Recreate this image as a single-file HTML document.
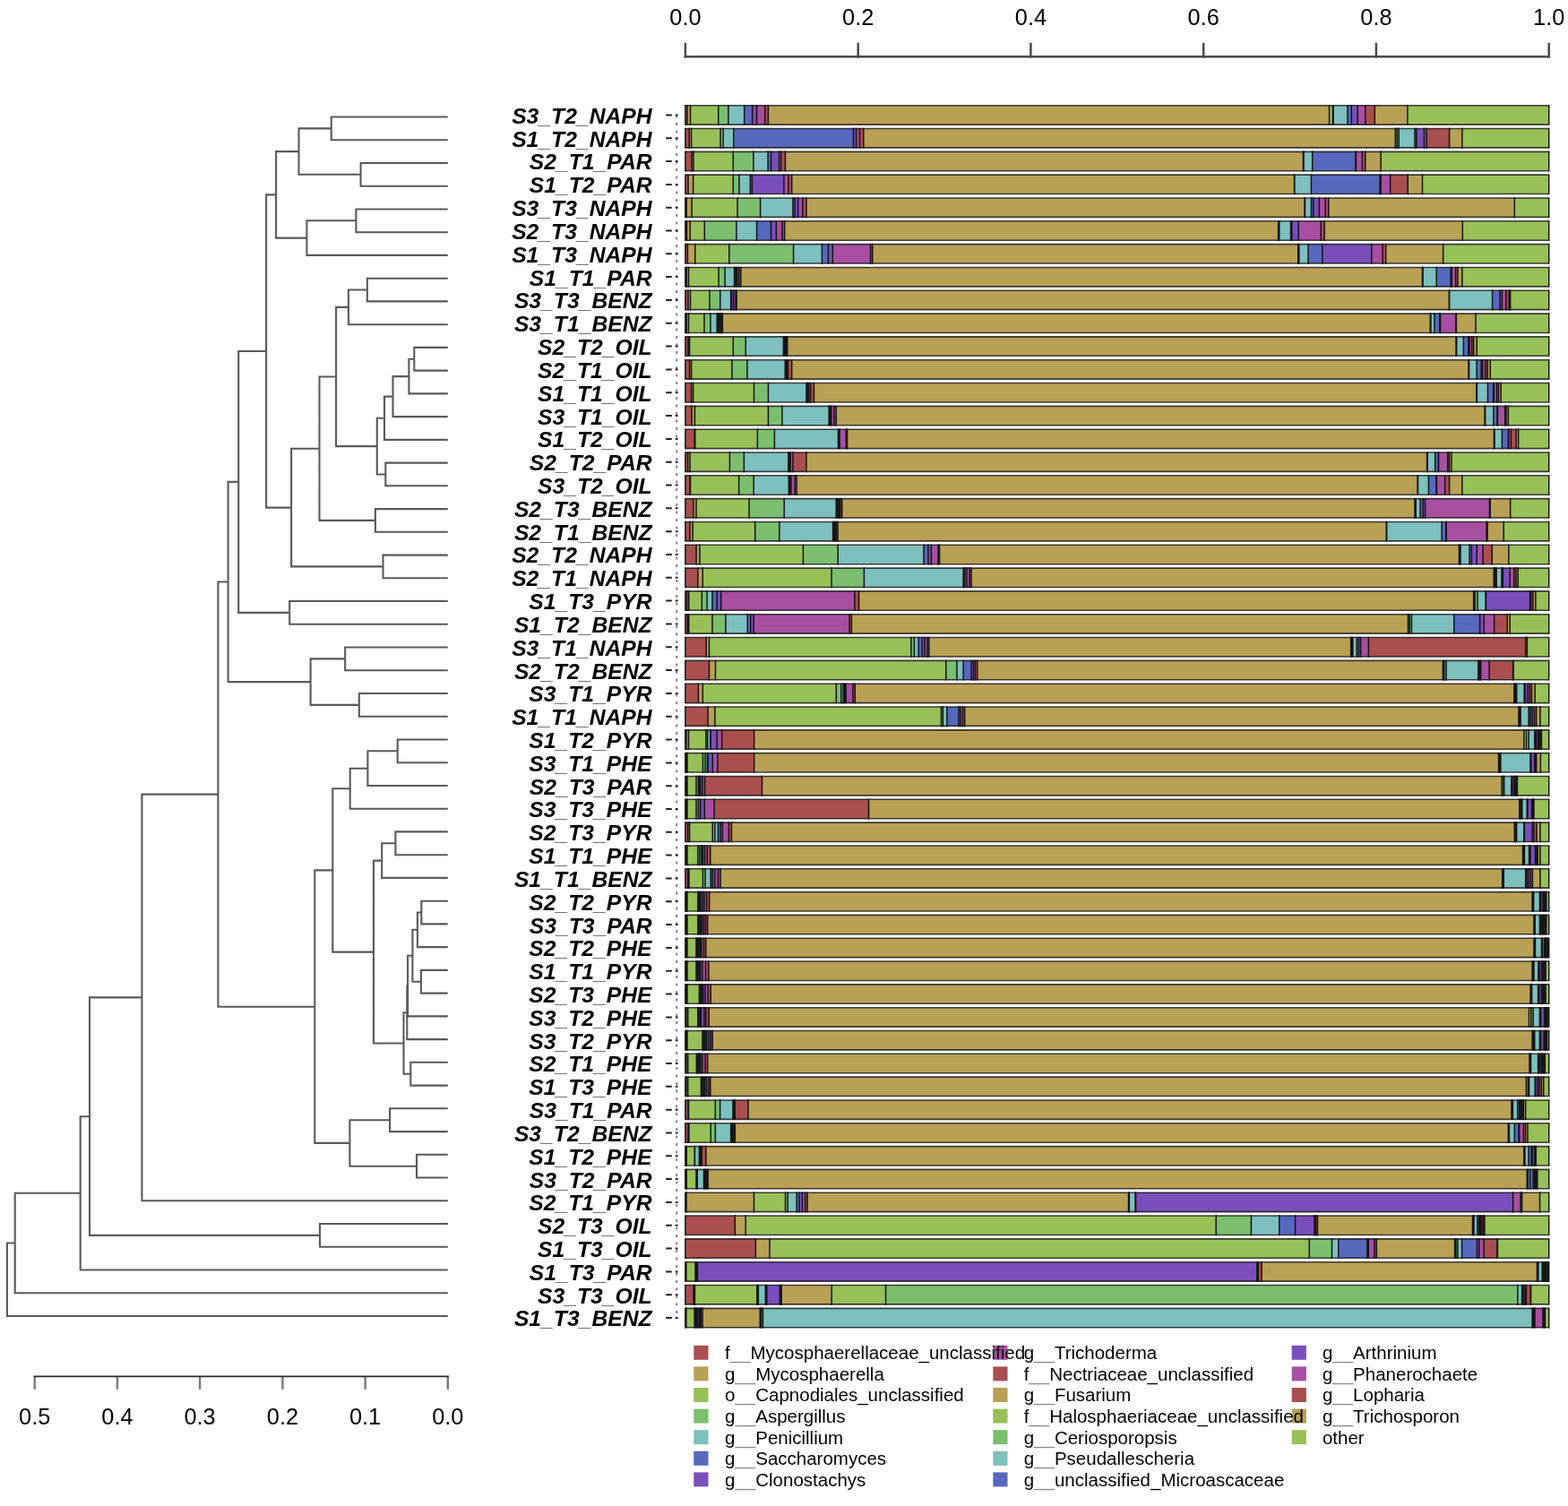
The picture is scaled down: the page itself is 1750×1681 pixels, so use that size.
<!DOCTYPE html><html><head><meta charset="utf-8"><title>Stacked bar chart with dendrogram</title>
<style>html,body{margin:0;padding:0;background:#fff;}svg{display:block;filter:blur(0.45px);}text{font-family:"Liberation Sans",Arial,sans-serif;}</style></head><body>
<svg width="1750" height="1681" viewBox="0 0 1750 1681">
<rect width="1750" height="1681" fill="#fff"/>
<g stroke="#4a4a4a" stroke-width="2.5" fill="none" stroke-linecap="square">
<path d="M764.9 63.3H1728.7"/>
<path d="M764.9 49V63.3"/>
<path d="M957.7 49V63.3"/>
<path d="M1150.4 49V63.3"/>
<path d="M1343.2 49V63.3"/>
<path d="M1535.9 49V63.3"/>
<path d="M1728.7 49V63.3"/>
</g>
<g font-size="25.3" text-anchor="middle" fill="#000">
<text x="764.9" y="28.4">0.0</text>
<text x="957.7" y="28.4">0.2</text>
<text x="1150.4" y="28.4">0.4</text>
<text x="1343.2" y="28.4">0.6</text>
<text x="1535.9" y="28.4">0.8</text>
<text x="1728.7" y="28.4">1.0</text>
</g>
<g><rect x="764.90" y="117.70" width="2.06" height="21.4" fill="#AA4F4F"/><rect x="766.96" y="117.70" width="3.56" height="21.4" fill="#B8A055"/><rect x="770.51" y="117.70" width="31.24" height="21.4" fill="#98C058"/><rect x="801.75" y="117.70" width="11.13" height="21.4" fill="#7BBF6E"/><rect x="812.88" y="117.70" width="17.78" height="21.4" fill="#7DC0BE"/><rect x="830.67" y="117.70" width="8.97" height="21.4" fill="#5769BD"/><rect x="839.64" y="117.70" width="4.95" height="21.4" fill="#7A4FBC"/><rect x="844.58" y="117.70" width="9.12" height="21.4" fill="#A84FA2"/><rect x="853.71" y="117.70" width="3.71" height="21.4" fill="#AA4F4F"/><rect x="857.42" y="117.70" width="626.14" height="21.4" fill="#B8A055"/><rect x="1483.56" y="117.70" width="3.87" height="21.4" fill="#98C058"/><rect x="1487.43" y="117.70" width="0.77" height="21.4" fill="#7BBF6E"/><rect x="1488.20" y="117.70" width="15.78" height="21.4" fill="#7DC0BE"/><rect x="1503.98" y="117.70" width="4.33" height="21.4" fill="#5769BD"/><rect x="1508.32" y="117.70" width="6.96" height="21.4" fill="#7A4FBC"/><rect x="1515.28" y="117.70" width="8.51" height="21.4" fill="#A84FA2"/><rect x="1523.79" y="117.70" width="10.52" height="21.4" fill="#AA4F4F"/><rect x="1534.31" y="117.70" width="36.61" height="21.4" fill="#B8A055"/><rect x="1570.92" y="117.70" width="157.78" height="21.4" fill="#98C058"/><rect x="764.90" y="143.52" width="4.38" height="21.4" fill="#AA4F4F"/><rect x="769.28" y="143.52" width="2.32" height="21.4" fill="#B8A055"/><rect x="771.60" y="143.52" width="32.47" height="21.4" fill="#98C058"/><rect x="804.07" y="143.52" width="3.09" height="21.4" fill="#7BBF6E"/><rect x="807.16" y="143.52" width="11.60" height="21.4" fill="#7DC0BE"/><rect x="818.76" y="143.52" width="133.76" height="21.4" fill="#5769BD"/><rect x="952.52" y="143.52" width="3.09" height="21.4" fill="#7A4FBC"/><rect x="955.61" y="143.52" width="3.87" height="21.4" fill="#A84FA2"/><rect x="959.47" y="143.52" width="4.33" height="21.4" fill="#AA4F4F"/><rect x="963.80" y="143.52" width="593.51" height="21.4" fill="#B8A055"/><rect x="1557.32" y="143.52" width="1.86" height="21.4" fill="#98C058"/><rect x="1559.17" y="143.52" width="2.01" height="21.4" fill="#7BBF6E"/><rect x="1561.18" y="143.52" width="17.78" height="21.4" fill="#7DC0BE"/><rect x="1578.96" y="143.52" width="1.86" height="21.4" fill="#5769BD"/><rect x="1580.82" y="143.52" width="8.66" height="21.4" fill="#7A4FBC"/><rect x="1589.48" y="143.52" width="2.63" height="21.4" fill="#A84FA2"/><rect x="1592.11" y="143.52" width="25.51" height="21.4" fill="#AA4F4F"/><rect x="1617.62" y="143.52" width="14.23" height="21.4" fill="#B8A055"/><rect x="1631.85" y="143.52" width="96.85" height="21.4" fill="#98C058"/><rect x="764.90" y="169.34" width="7.16" height="21.4" fill="#AA4F4F"/><rect x="772.06" y="169.34" width="1.86" height="21.4" fill="#B8A055"/><rect x="773.92" y="169.34" width="44.38" height="21.4" fill="#98C058"/><rect x="818.30" y="169.34" width="22.58" height="21.4" fill="#7BBF6E"/><rect x="840.87" y="169.34" width="16.24" height="21.4" fill="#7DC0BE"/><rect x="857.11" y="169.34" width="3.40" height="21.4" fill="#5769BD"/><rect x="860.51" y="169.34" width="8.97" height="21.4" fill="#7A4FBC"/><rect x="869.48" y="169.34" width="2.16" height="21.4" fill="#A84FA2"/><rect x="871.64" y="169.34" width="4.79" height="21.4" fill="#AA4F4F"/><rect x="876.44" y="169.34" width="578.03" height="21.4" fill="#B8A055"/><rect x="1454.47" y="169.34" width="0.46" height="21.4" fill="#98C058"/><rect x="1454.93" y="169.34" width="0.15" height="21.4" fill="#7BBF6E"/><rect x="1455.09" y="169.34" width="9.59" height="21.4" fill="#7DC0BE"/><rect x="1464.68" y="169.34" width="48.28" height="21.4" fill="#5769BD"/><rect x="1512.96" y="169.34" width="0.46" height="21.4" fill="#7A4FBC"/><rect x="1513.42" y="169.34" width="6.96" height="21.4" fill="#A84FA2"/><rect x="1520.39" y="169.34" width="3.40" height="21.4" fill="#AA4F4F"/><rect x="1523.79" y="169.34" width="17.33" height="21.4" fill="#B8A055"/><rect x="1541.12" y="169.34" width="187.58" height="21.4" fill="#98C058"/><rect x="764.90" y="195.16" width="3.14" height="21.4" fill="#AA4F4F"/><rect x="768.04" y="195.16" width="5.57" height="21.4" fill="#B8A055"/><rect x="773.61" y="195.16" width="44.69" height="21.4" fill="#98C058"/><rect x="818.30" y="195.16" width="6.65" height="21.4" fill="#7BBF6E"/><rect x="824.95" y="195.16" width="12.37" height="21.4" fill="#7DC0BE"/><rect x="837.32" y="195.16" width="2.01" height="21.4" fill="#5769BD"/><rect x="839.33" y="195.16" width="35.57" height="21.4" fill="#7A4FBC"/><rect x="874.89" y="195.16" width="4.95" height="21.4" fill="#A84FA2"/><rect x="879.84" y="195.16" width="3.87" height="21.4" fill="#AA4F4F"/><rect x="883.70" y="195.16" width="560.86" height="21.4" fill="#B8A055"/><rect x="1444.56" y="195.16" width="0.15" height="21.4" fill="#98C058"/><rect x="1444.72" y="195.16" width="0.15" height="21.4" fill="#7BBF6E"/><rect x="1444.87" y="195.16" width="18.57" height="21.4" fill="#7DC0BE"/><rect x="1463.44" y="195.16" width="76.60" height="21.4" fill="#5769BD"/><rect x="1540.04" y="195.16" width="1.08" height="21.4" fill="#7A4FBC"/><rect x="1541.12" y="195.16" width="10.52" height="21.4" fill="#A84FA2"/><rect x="1551.64" y="195.16" width="19.59" height="21.4" fill="#AA4F4F"/><rect x="1571.23" y="195.16" width="16.24" height="21.4" fill="#B8A055"/><rect x="1587.47" y="195.16" width="141.23" height="21.4" fill="#98C058"/><rect x="764.90" y="220.98" width="1.29" height="21.4" fill="#AA4F4F"/><rect x="766.19" y="220.98" width="5.88" height="21.4" fill="#B8A055"/><rect x="772.06" y="220.98" width="51.03" height="21.4" fill="#98C058"/><rect x="823.09" y="220.98" width="25.51" height="21.4" fill="#7BBF6E"/><rect x="848.60" y="220.98" width="36.34" height="21.4" fill="#7DC0BE"/><rect x="884.94" y="220.98" width="2.16" height="21.4" fill="#5769BD"/><rect x="887.11" y="220.98" width="3.56" height="21.4" fill="#7A4FBC"/><rect x="890.66" y="220.98" width="5.10" height="21.4" fill="#A84FA2"/><rect x="895.77" y="220.98" width="4.18" height="21.4" fill="#AA4F4F"/><rect x="899.94" y="220.98" width="556.07" height="21.4" fill="#B8A055"/><rect x="1456.02" y="220.98" width="0.31" height="21.4" fill="#98C058"/><rect x="1456.32" y="220.98" width="0.15" height="21.4" fill="#7BBF6E"/><rect x="1456.48" y="220.98" width="6.96" height="21.4" fill="#7DC0BE"/><rect x="1463.44" y="220.98" width="2.32" height="21.4" fill="#5769BD"/><rect x="1465.76" y="220.98" width="6.65" height="21.4" fill="#7A4FBC"/><rect x="1472.42" y="220.98" width="6.81" height="21.4" fill="#A84FA2"/><rect x="1479.23" y="220.98" width="3.56" height="21.4" fill="#AA4F4F"/><rect x="1482.79" y="220.98" width="207.51" height="21.4" fill="#B8A055"/><rect x="1690.30" y="220.98" width="38.40" height="21.4" fill="#98C058"/><rect x="764.90" y="246.80" width="1.59" height="21.4" fill="#AA4F4F"/><rect x="766.49" y="246.80" width="3.71" height="21.4" fill="#B8A055"/><rect x="770.21" y="246.80" width="16.08" height="21.4" fill="#98C058"/><rect x="786.29" y="246.80" width="35.57" height="21.4" fill="#7BBF6E"/><rect x="821.85" y="246.80" width="22.73" height="21.4" fill="#7DC0BE"/><rect x="844.58" y="246.80" width="15.93" height="21.4" fill="#5769BD"/><rect x="860.51" y="246.80" width="5.88" height="21.4" fill="#7A4FBC"/><rect x="866.39" y="246.80" width="6.49" height="21.4" fill="#A84FA2"/><rect x="872.88" y="246.80" width="2.78" height="21.4" fill="#AA4F4F"/><rect x="875.66" y="246.80" width="550.95" height="21.4" fill="#B8A055"/><rect x="1426.62" y="246.80" width="0.62" height="21.4" fill="#98C058"/><rect x="1427.23" y="246.80" width="0.62" height="21.4" fill="#7BBF6E"/><rect x="1427.85" y="246.80" width="12.69" height="21.4" fill="#7DC0BE"/><rect x="1440.54" y="246.80" width="1.24" height="21.4" fill="#5769BD"/><rect x="1441.78" y="246.80" width="7.43" height="21.4" fill="#7A4FBC"/><rect x="1449.21" y="246.80" width="25.07" height="21.4" fill="#A84FA2"/><rect x="1474.27" y="246.80" width="3.87" height="21.4" fill="#AA4F4F"/><rect x="1478.14" y="246.80" width="154.17" height="21.4" fill="#B8A055"/><rect x="1632.31" y="246.80" width="96.39" height="21.4" fill="#98C058"/><rect x="764.90" y="272.62" width="2.52" height="21.4" fill="#AA4F4F"/><rect x="767.42" y="272.62" width="8.35" height="21.4" fill="#B8A055"/><rect x="775.77" y="272.62" width="38.04" height="21.4" fill="#98C058"/><rect x="813.81" y="272.62" width="71.75" height="21.4" fill="#7BBF6E"/><rect x="885.56" y="272.62" width="31.85" height="21.4" fill="#7DC0BE"/><rect x="917.41" y="272.62" width="6.96" height="21.4" fill="#5769BD"/><rect x="924.37" y="272.62" width="4.95" height="21.4" fill="#7A4FBC"/><rect x="929.32" y="272.62" width="42.21" height="21.4" fill="#A84FA2"/><rect x="971.54" y="272.62" width="2.16" height="21.4" fill="#AA4F4F"/><rect x="973.70" y="272.62" width="475.04" height="21.4" fill="#B8A055"/><rect x="1448.74" y="272.62" width="0.46" height="21.4" fill="#98C058"/><rect x="1449.21" y="272.62" width="0.62" height="21.4" fill="#7BBF6E"/><rect x="1449.83" y="272.62" width="10.21" height="21.4" fill="#7DC0BE"/><rect x="1460.04" y="272.62" width="15.78" height="21.4" fill="#5769BD"/><rect x="1475.82" y="272.62" width="54.93" height="21.4" fill="#7A4FBC"/><rect x="1530.75" y="272.62" width="12.38" height="21.4" fill="#A84FA2"/><rect x="1543.13" y="272.62" width="3.56" height="21.4" fill="#AA4F4F"/><rect x="1546.69" y="272.62" width="63.97" height="21.4" fill="#B8A055"/><rect x="1610.66" y="272.62" width="118.04" height="21.4" fill="#98C058"/><rect x="764.90" y="298.44" width="1.29" height="21.4" fill="#AA4F4F"/><rect x="766.19" y="298.44" width="2.32" height="21.4" fill="#B8A055"/><rect x="768.50" y="298.44" width="33.55" height="21.4" fill="#98C058"/><rect x="802.06" y="298.44" width="7.11" height="21.4" fill="#7BBF6E"/><rect x="809.17" y="298.44" width="10.36" height="21.4" fill="#7DC0BE"/><rect x="819.53" y="298.44" width="1.55" height="21.4" fill="#5769BD"/><rect x="821.08" y="298.44" width="1.55" height="21.4" fill="#7A4FBC"/><rect x="822.63" y="298.44" width="2.01" height="21.4" fill="#A84FA2"/><rect x="824.64" y="298.44" width="2.16" height="21.4" fill="#AA4F4F"/><rect x="826.80" y="298.44" width="760.67" height="21.4" fill="#B8A055"/><rect x="1587.47" y="298.44" width="0.31" height="21.4" fill="#98C058"/><rect x="1587.78" y="298.44" width="0.31" height="21.4" fill="#7BBF6E"/><rect x="1588.09" y="298.44" width="15.15" height="21.4" fill="#7DC0BE"/><rect x="1603.24" y="298.44" width="15.93" height="21.4" fill="#5769BD"/><rect x="1619.17" y="298.44" width="1.08" height="21.4" fill="#7A4FBC"/><rect x="1620.25" y="298.44" width="4.33" height="21.4" fill="#A84FA2"/><rect x="1624.58" y="298.44" width="2.32" height="21.4" fill="#AA4F4F"/><rect x="1626.90" y="298.44" width="4.95" height="21.4" fill="#B8A055"/><rect x="1631.85" y="298.44" width="96.85" height="21.4" fill="#98C058"/><rect x="764.90" y="324.26" width="3.14" height="21.4" fill="#AA4F4F"/><rect x="768.04" y="324.26" width="2.47" height="21.4" fill="#B8A055"/><rect x="770.51" y="324.26" width="21.49" height="21.4" fill="#98C058"/><rect x="792.01" y="324.26" width="11.75" height="21.4" fill="#7BBF6E"/><rect x="803.76" y="324.26" width="11.91" height="21.4" fill="#7DC0BE"/><rect x="815.67" y="324.26" width="0.77" height="21.4" fill="#5769BD"/><rect x="816.44" y="324.26" width="2.32" height="21.4" fill="#7A4FBC"/><rect x="818.76" y="324.26" width="2.32" height="21.4" fill="#A84FA2"/><rect x="821.08" y="324.26" width="1.08" height="21.4" fill="#AA4F4F"/><rect x="822.16" y="324.26" width="795.15" height="21.4" fill="#B8A055"/><rect x="1617.31" y="324.26" width="0.15" height="21.4" fill="#98C058"/><rect x="1617.47" y="324.26" width="0.15" height="21.4" fill="#7BBF6E"/><rect x="1617.62" y="324.26" width="47.94" height="21.4" fill="#7DC0BE"/><rect x="1665.56" y="324.26" width="8.50" height="21.4" fill="#5769BD"/><rect x="1674.06" y="324.26" width="2.32" height="21.4" fill="#7A4FBC"/><rect x="1676.38" y="324.26" width="4.33" height="21.4" fill="#A84FA2"/><rect x="1680.71" y="324.26" width="3.40" height="21.4" fill="#AA4F4F"/><rect x="1684.11" y="324.26" width="1.55" height="21.4" fill="#B8A055"/><rect x="1685.66" y="324.26" width="43.04" height="21.4" fill="#98C058"/><rect x="764.90" y="350.08" width="1.29" height="21.4" fill="#AA4F4F"/><rect x="766.19" y="350.08" width="2.32" height="21.4" fill="#B8A055"/><rect x="768.50" y="350.08" width="17.47" height="21.4" fill="#98C058"/><rect x="785.98" y="350.08" width="6.96" height="21.4" fill="#7BBF6E"/><rect x="792.94" y="350.08" width="7.27" height="21.4" fill="#7DC0BE"/><rect x="800.20" y="350.08" width="1.55" height="21.4" fill="#5769BD"/><rect x="801.75" y="350.08" width="1.55" height="21.4" fill="#7A4FBC"/><rect x="803.30" y="350.08" width="1.55" height="21.4" fill="#A84FA2"/><rect x="804.84" y="350.08" width="1.55" height="21.4" fill="#AA4F4F"/><rect x="806.39" y="350.08" width="789.89" height="21.4" fill="#B8A055"/><rect x="1596.28" y="350.08" width="0.31" height="21.4" fill="#98C058"/><rect x="1596.59" y="350.08" width="0.31" height="21.4" fill="#7BBF6E"/><rect x="1596.90" y="350.08" width="4.02" height="21.4" fill="#7DC0BE"/><rect x="1600.92" y="350.08" width="5.88" height="21.4" fill="#5769BD"/><rect x="1606.80" y="350.08" width="0.77" height="21.4" fill="#7A4FBC"/><rect x="1607.57" y="350.08" width="17.32" height="21.4" fill="#A84FA2"/><rect x="1624.89" y="350.08" width="0.46" height="21.4" fill="#AA4F4F"/><rect x="1625.35" y="350.08" width="21.65" height="21.4" fill="#B8A055"/><rect x="1647.00" y="350.08" width="81.70" height="21.4" fill="#98C058"/><rect x="764.90" y="375.90" width="3.14" height="21.4" fill="#AA4F4F"/><rect x="768.04" y="375.90" width="1.55" height="21.4" fill="#B8A055"/><rect x="769.59" y="375.90" width="48.71" height="21.4" fill="#98C058"/><rect x="818.30" y="375.90" width="13.92" height="21.4" fill="#7BBF6E"/><rect x="832.21" y="375.90" width="42.21" height="21.4" fill="#7DC0BE"/><rect x="874.43" y="375.90" width="0.77" height="21.4" fill="#5769BD"/><rect x="875.20" y="375.90" width="1.08" height="21.4" fill="#7A4FBC"/><rect x="876.28" y="375.90" width="1.24" height="21.4" fill="#A84FA2"/><rect x="877.52" y="375.90" width="1.24" height="21.4" fill="#AA4F4F"/><rect x="878.76" y="375.90" width="746.29" height="21.4" fill="#B8A055"/><rect x="1625.04" y="375.90" width="0.31" height="21.4" fill="#98C058"/><rect x="1625.35" y="375.90" width="0.31" height="21.4" fill="#7BBF6E"/><rect x="1625.66" y="375.90" width="7.73" height="21.4" fill="#7DC0BE"/><rect x="1633.39" y="375.90" width="5.41" height="21.4" fill="#5769BD"/><rect x="1638.81" y="375.90" width="1.24" height="21.4" fill="#7A4FBC"/><rect x="1640.04" y="375.90" width="2.63" height="21.4" fill="#A84FA2"/><rect x="1642.67" y="375.90" width="2.01" height="21.4" fill="#AA4F4F"/><rect x="1644.68" y="375.90" width="3.56" height="21.4" fill="#B8A055"/><rect x="1648.24" y="375.90" width="80.46" height="21.4" fill="#98C058"/><rect x="764.90" y="401.72" width="4.69" height="21.4" fill="#AA4F4F"/><rect x="769.59" y="401.72" width="2.01" height="21.4" fill="#B8A055"/><rect x="771.60" y="401.72" width="45.31" height="21.4" fill="#98C058"/><rect x="816.90" y="401.72" width="17.01" height="21.4" fill="#7BBF6E"/><rect x="833.91" y="401.72" width="42.37" height="21.4" fill="#7DC0BE"/><rect x="876.28" y="401.72" width="0.93" height="21.4" fill="#5769BD"/><rect x="877.21" y="401.72" width="1.08" height="21.4" fill="#7A4FBC"/><rect x="878.29" y="401.72" width="1.08" height="21.4" fill="#A84FA2"/><rect x="879.38" y="401.72" width="4.33" height="21.4" fill="#AA4F4F"/><rect x="883.70" y="401.72" width="755.26" height="21.4" fill="#B8A055"/><rect x="1638.96" y="401.72" width="0.31" height="21.4" fill="#98C058"/><rect x="1639.27" y="401.72" width="0.31" height="21.4" fill="#7BBF6E"/><rect x="1639.58" y="401.72" width="8.50" height="21.4" fill="#7DC0BE"/><rect x="1648.08" y="401.72" width="5.10" height="21.4" fill="#5769BD"/><rect x="1653.19" y="401.72" width="1.55" height="21.4" fill="#7A4FBC"/><rect x="1654.73" y="401.72" width="3.09" height="21.4" fill="#A84FA2"/><rect x="1657.83" y="401.72" width="2.32" height="21.4" fill="#AA4F4F"/><rect x="1660.15" y="401.72" width="3.09" height="21.4" fill="#B8A055"/><rect x="1663.24" y="401.72" width="65.46" height="21.4" fill="#98C058"/><rect x="764.90" y="427.54" width="6.70" height="21.4" fill="#AA4F4F"/><rect x="771.60" y="427.54" width="2.01" height="21.4" fill="#B8A055"/><rect x="773.61" y="427.54" width="67.88" height="21.4" fill="#98C058"/><rect x="841.49" y="427.54" width="15.93" height="21.4" fill="#7BBF6E"/><rect x="857.42" y="427.54" width="42.52" height="21.4" fill="#7DC0BE"/><rect x="899.94" y="427.54" width="1.08" height="21.4" fill="#5769BD"/><rect x="901.02" y="427.54" width="1.55" height="21.4" fill="#7A4FBC"/><rect x="902.57" y="427.54" width="2.01" height="21.4" fill="#A84FA2"/><rect x="904.58" y="427.54" width="3.87" height="21.4" fill="#AA4F4F"/><rect x="908.45" y="427.54" width="739.33" height="21.4" fill="#B8A055"/><rect x="1647.77" y="427.54" width="0.31" height="21.4" fill="#98C058"/><rect x="1648.08" y="427.54" width="0.31" height="21.4" fill="#7BBF6E"/><rect x="1648.39" y="427.54" width="12.06" height="21.4" fill="#7DC0BE"/><rect x="1660.45" y="427.54" width="6.19" height="21.4" fill="#5769BD"/><rect x="1666.64" y="427.54" width="0.77" height="21.4" fill="#7A4FBC"/><rect x="1667.41" y="427.54" width="3.09" height="21.4" fill="#A84FA2"/><rect x="1670.51" y="427.54" width="2.01" height="21.4" fill="#AA4F4F"/><rect x="1672.52" y="427.54" width="2.63" height="21.4" fill="#B8A055"/><rect x="1675.14" y="427.54" width="53.56" height="21.4" fill="#98C058"/><rect x="764.90" y="453.36" width="7.16" height="21.4" fill="#AA4F4F"/><rect x="772.06" y="453.36" width="3.40" height="21.4" fill="#B8A055"/><rect x="775.46" y="453.36" width="81.95" height="21.4" fill="#98C058"/><rect x="857.42" y="453.36" width="15.46" height="21.4" fill="#7BBF6E"/><rect x="872.88" y="453.36" width="52.27" height="21.4" fill="#7DC0BE"/><rect x="925.15" y="453.36" width="1.55" height="21.4" fill="#5769BD"/><rect x="926.69" y="453.36" width="1.08" height="21.4" fill="#7A4FBC"/><rect x="927.77" y="453.36" width="3.09" height="21.4" fill="#A84FA2"/><rect x="930.87" y="453.36" width="2.32" height="21.4" fill="#AA4F4F"/><rect x="933.19" y="453.36" width="723.87" height="21.4" fill="#B8A055"/><rect x="1657.05" y="453.36" width="0.31" height="21.4" fill="#98C058"/><rect x="1657.36" y="453.36" width="0.31" height="21.4" fill="#7BBF6E"/><rect x="1657.67" y="453.36" width="9.12" height="21.4" fill="#7DC0BE"/><rect x="1666.79" y="453.36" width="4.18" height="21.4" fill="#5769BD"/><rect x="1670.97" y="453.36" width="0.46" height="21.4" fill="#7A4FBC"/><rect x="1671.43" y="453.36" width="8.35" height="21.4" fill="#A84FA2"/><rect x="1679.78" y="453.36" width="1.24" height="21.4" fill="#AA4F4F"/><rect x="1681.02" y="453.36" width="2.32" height="21.4" fill="#B8A055"/><rect x="1683.34" y="453.36" width="45.36" height="21.4" fill="#98C058"/><rect x="764.90" y="479.18" width="10.25" height="21.4" fill="#AA4F4F"/><rect x="775.15" y="479.18" width="0.62" height="21.4" fill="#B8A055"/><rect x="775.77" y="479.18" width="69.58" height="21.4" fill="#98C058"/><rect x="845.36" y="479.18" width="19.02" height="21.4" fill="#7BBF6E"/><rect x="864.38" y="479.18" width="71.13" height="21.4" fill="#7DC0BE"/><rect x="935.51" y="479.18" width="0.77" height="21.4" fill="#5769BD"/><rect x="936.28" y="479.18" width="0.77" height="21.4" fill="#7A4FBC"/><rect x="937.05" y="479.18" width="7.27" height="21.4" fill="#A84FA2"/><rect x="944.32" y="479.18" width="1.24" height="21.4" fill="#AA4F4F"/><rect x="945.56" y="479.18" width="721.86" height="21.4" fill="#B8A055"/><rect x="1667.41" y="479.18" width="0.31" height="21.4" fill="#98C058"/><rect x="1667.72" y="479.18" width="0.31" height="21.4" fill="#7BBF6E"/><rect x="1668.03" y="479.18" width="8.35" height="21.4" fill="#7DC0BE"/><rect x="1676.38" y="479.18" width="6.96" height="21.4" fill="#5769BD"/><rect x="1683.34" y="479.18" width="0.46" height="21.4" fill="#7A4FBC"/><rect x="1683.80" y="479.18" width="2.63" height="21.4" fill="#A84FA2"/><rect x="1686.43" y="479.18" width="5.72" height="21.4" fill="#AA4F4F"/><rect x="1692.15" y="479.18" width="2.47" height="21.4" fill="#B8A055"/><rect x="1694.63" y="479.18" width="34.07" height="21.4" fill="#98C058"/><rect x="764.90" y="505.00" width="2.83" height="21.4" fill="#AA4F4F"/><rect x="767.73" y="505.00" width="2.32" height="21.4" fill="#B8A055"/><rect x="770.05" y="505.00" width="44.38" height="21.4" fill="#98C058"/><rect x="814.43" y="505.00" width="15.93" height="21.4" fill="#7BBF6E"/><rect x="830.36" y="505.00" width="49.48" height="21.4" fill="#7DC0BE"/><rect x="879.84" y="505.00" width="0.77" height="21.4" fill="#5769BD"/><rect x="880.61" y="505.00" width="1.55" height="21.4" fill="#7A4FBC"/><rect x="882.16" y="505.00" width="2.78" height="21.4" fill="#A84FA2"/><rect x="884.94" y="505.00" width="15.00" height="21.4" fill="#AA4F4F"/><rect x="899.94" y="505.00" width="692.63" height="21.4" fill="#B8A055"/><rect x="1592.57" y="505.00" width="0.31" height="21.4" fill="#98C058"/><rect x="1592.88" y="505.00" width="0.31" height="21.4" fill="#7BBF6E"/><rect x="1593.19" y="505.00" width="8.50" height="21.4" fill="#7DC0BE"/><rect x="1601.69" y="505.00" width="3.56" height="21.4" fill="#5769BD"/><rect x="1605.25" y="505.00" width="0.31" height="21.4" fill="#7A4FBC"/><rect x="1605.56" y="505.00" width="10.21" height="21.4" fill="#A84FA2"/><rect x="1615.77" y="505.00" width="1.86" height="21.4" fill="#AA4F4F"/><rect x="1617.62" y="505.00" width="2.32" height="21.4" fill="#B8A055"/><rect x="1619.94" y="505.00" width="108.76" height="21.4" fill="#98C058"/><rect x="764.90" y="530.82" width="5.15" height="21.4" fill="#AA4F4F"/><rect x="770.05" y="530.82" width="0.46" height="21.4" fill="#B8A055"/><rect x="770.51" y="530.82" width="54.12" height="21.4" fill="#98C058"/><rect x="824.64" y="530.82" width="16.55" height="21.4" fill="#7BBF6E"/><rect x="841.18" y="530.82" width="39.12" height="21.4" fill="#7DC0BE"/><rect x="880.30" y="530.82" width="1.08" height="21.4" fill="#5769BD"/><rect x="881.39" y="530.82" width="1.55" height="21.4" fill="#7A4FBC"/><rect x="882.93" y="530.82" width="4.18" height="21.4" fill="#A84FA2"/><rect x="887.11" y="530.82" width="2.01" height="21.4" fill="#AA4F4F"/><rect x="889.12" y="530.82" width="692.94" height="21.4" fill="#B8A055"/><rect x="1582.06" y="530.82" width="0.31" height="21.4" fill="#98C058"/><rect x="1582.37" y="530.82" width="0.15" height="21.4" fill="#7BBF6E"/><rect x="1582.52" y="530.82" width="11.91" height="21.4" fill="#7DC0BE"/><rect x="1594.43" y="530.82" width="8.50" height="21.4" fill="#5769BD"/><rect x="1602.93" y="530.82" width="0.46" height="21.4" fill="#7A4FBC"/><rect x="1603.40" y="530.82" width="9.28" height="21.4" fill="#A84FA2"/><rect x="1612.67" y="530.82" width="4.95" height="21.4" fill="#AA4F4F"/><rect x="1617.62" y="530.82" width="14.23" height="21.4" fill="#B8A055"/><rect x="1631.85" y="530.82" width="96.85" height="21.4" fill="#98C058"/><rect x="764.90" y="556.64" width="9.02" height="21.4" fill="#AA4F4F"/><rect x="773.92" y="556.64" width="3.09" height="21.4" fill="#B8A055"/><rect x="777.01" y="556.64" width="59.07" height="21.4" fill="#98C058"/><rect x="836.08" y="556.64" width="39.12" height="21.4" fill="#7BBF6E"/><rect x="875.20" y="556.64" width="57.99" height="21.4" fill="#7DC0BE"/><rect x="933.19" y="556.64" width="1.55" height="21.4" fill="#5769BD"/><rect x="934.73" y="556.64" width="1.55" height="21.4" fill="#7A4FBC"/><rect x="936.28" y="556.64" width="1.55" height="21.4" fill="#A84FA2"/><rect x="937.83" y="556.64" width="1.86" height="21.4" fill="#AA4F4F"/><rect x="939.68" y="556.64" width="639.28" height="21.4" fill="#B8A055"/><rect x="1578.96" y="556.64" width="0.77" height="21.4" fill="#98C058"/><rect x="1579.74" y="556.64" width="0.46" height="21.4" fill="#7BBF6E"/><rect x="1580.20" y="556.64" width="4.95" height="21.4" fill="#7DC0BE"/><rect x="1585.15" y="556.64" width="3.09" height="21.4" fill="#5769BD"/><rect x="1588.24" y="556.64" width="2.32" height="21.4" fill="#7A4FBC"/><rect x="1590.56" y="556.64" width="71.90" height="21.4" fill="#A84FA2"/><rect x="1662.46" y="556.64" width="0.77" height="21.4" fill="#AA4F4F"/><rect x="1663.24" y="556.64" width="22.42" height="21.4" fill="#B8A055"/><rect x="1685.66" y="556.64" width="43.04" height="21.4" fill="#98C058"/><rect x="764.90" y="582.46" width="5.15" height="21.4" fill="#AA4F4F"/><rect x="770.05" y="582.46" width="3.09" height="21.4" fill="#B8A055"/><rect x="773.14" y="582.46" width="69.58" height="21.4" fill="#98C058"/><rect x="842.73" y="582.46" width="27.06" height="21.4" fill="#7BBF6E"/><rect x="869.79" y="582.46" width="59.84" height="21.4" fill="#7DC0BE"/><rect x="929.63" y="582.46" width="1.24" height="21.4" fill="#5769BD"/><rect x="930.87" y="582.46" width="1.08" height="21.4" fill="#7A4FBC"/><rect x="931.95" y="582.46" width="1.24" height="21.4" fill="#A84FA2"/><rect x="933.19" y="582.46" width="1.86" height="21.4" fill="#AA4F4F"/><rect x="935.04" y="582.46" width="612.22" height="21.4" fill="#B8A055"/><rect x="1547.26" y="582.46" width="0.31" height="21.4" fill="#98C058"/><rect x="1547.57" y="582.46" width="0.15" height="21.4" fill="#7BBF6E"/><rect x="1547.73" y="582.46" width="61.39" height="21.4" fill="#7DC0BE"/><rect x="1609.12" y="582.46" width="4.64" height="21.4" fill="#5769BD"/><rect x="1613.76" y="582.46" width="0.46" height="21.4" fill="#7A4FBC"/><rect x="1614.22" y="582.46" width="44.84" height="21.4" fill="#A84FA2"/><rect x="1659.06" y="582.46" width="1.08" height="21.4" fill="#AA4F4F"/><rect x="1660.15" y="582.46" width="18.09" height="21.4" fill="#B8A055"/><rect x="1678.24" y="582.46" width="50.46" height="21.4" fill="#98C058"/><rect x="764.90" y="608.28" width="12.20" height="21.4" fill="#AA4F4F"/><rect x="777.10" y="608.28" width="3.89" height="21.4" fill="#B8A055"/><rect x="780.98" y="608.28" width="115.41" height="21.4" fill="#98C058"/><rect x="896.39" y="608.28" width="38.86" height="21.4" fill="#7BBF6E"/><rect x="935.25" y="608.28" width="95.78" height="21.4" fill="#7DC0BE"/><rect x="1031.03" y="608.28" width="4.86" height="21.4" fill="#5769BD"/><rect x="1035.89" y="608.28" width="3.50" height="21.4" fill="#7A4FBC"/><rect x="1039.39" y="608.28" width="7.58" height="21.4" fill="#A84FA2"/><rect x="1046.96" y="608.28" width="1.55" height="21.4" fill="#AA4F4F"/><rect x="1048.52" y="608.28" width="579.93" height="21.4" fill="#B8A055"/><rect x="1628.45" y="608.28" width="0.77" height="21.4" fill="#98C058"/><rect x="1629.22" y="608.28" width="0.77" height="21.4" fill="#7BBF6E"/><rect x="1629.99" y="608.28" width="10.05" height="21.4" fill="#7DC0BE"/><rect x="1640.04" y="608.28" width="2.32" height="21.4" fill="#5769BD"/><rect x="1642.36" y="608.28" width="5.88" height="21.4" fill="#7A4FBC"/><rect x="1648.24" y="608.28" width="6.80" height="21.4" fill="#A84FA2"/><rect x="1655.04" y="608.28" width="10.21" height="21.4" fill="#AA4F4F"/><rect x="1665.25" y="608.28" width="18.56" height="21.4" fill="#B8A055"/><rect x="1683.80" y="608.28" width="44.90" height="21.4" fill="#98C058"/><rect x="764.90" y="634.10" width="13.95" height="21.4" fill="#AA4F4F"/><rect x="778.85" y="634.10" width="5.44" height="21.4" fill="#B8A055"/><rect x="784.29" y="634.10" width="143.77" height="21.4" fill="#98C058"/><rect x="928.06" y="634.10" width="36.33" height="21.4" fill="#7BBF6E"/><rect x="964.39" y="634.10" width="110.74" height="21.4" fill="#7DC0BE"/><rect x="1075.14" y="634.10" width="1.55" height="21.4" fill="#5769BD"/><rect x="1076.69" y="634.10" width="2.33" height="21.4" fill="#7A4FBC"/><rect x="1079.02" y="634.10" width="3.11" height="21.4" fill="#A84FA2"/><rect x="1082.13" y="634.10" width="1.94" height="21.4" fill="#AA4F4F"/><rect x="1084.07" y="634.10" width="583.16" height="21.4" fill="#B8A055"/><rect x="1667.24" y="634.10" width="1.46" height="21.4" fill="#98C058"/><rect x="1668.69" y="634.10" width="1.46" height="21.4" fill="#7BBF6E"/><rect x="1670.15" y="634.10" width="5.83" height="21.4" fill="#7DC0BE"/><rect x="1675.98" y="634.10" width="1.46" height="21.4" fill="#5769BD"/><rect x="1677.44" y="634.10" width="7.72" height="21.4" fill="#7A4FBC"/><rect x="1685.16" y="634.10" width="4.66" height="21.4" fill="#A84FA2"/><rect x="1689.82" y="634.10" width="2.19" height="21.4" fill="#AA4F4F"/><rect x="1692.01" y="634.10" width="2.19" height="21.4" fill="#B8A055"/><rect x="1694.19" y="634.10" width="34.51" height="21.4" fill="#98C058"/><rect x="764.90" y="659.92" width="1.90" height="21.4" fill="#AA4F4F"/><rect x="766.80" y="659.92" width="1.94" height="21.4" fill="#B8A055"/><rect x="768.74" y="659.92" width="14.57" height="21.4" fill="#98C058"/><rect x="783.31" y="659.92" width="5.83" height="21.4" fill="#7BBF6E"/><rect x="789.14" y="659.92" width="5.83" height="21.4" fill="#7DC0BE"/><rect x="794.97" y="659.92" width="5.25" height="21.4" fill="#5769BD"/><rect x="800.22" y="659.92" width="4.47" height="21.4" fill="#7A4FBC"/><rect x="804.69" y="659.92" width="149.21" height="21.4" fill="#A84FA2"/><rect x="953.90" y="659.92" width="4.66" height="21.4" fill="#AA4F4F"/><rect x="958.56" y="659.92" width="686.09" height="21.4" fill="#B8A055"/><rect x="1644.65" y="659.92" width="1.46" height="21.4" fill="#98C058"/><rect x="1646.11" y="659.92" width="2.91" height="21.4" fill="#7BBF6E"/><rect x="1649.02" y="659.92" width="9.03" height="21.4" fill="#7DC0BE"/><rect x="1658.06" y="659.92" width="0.44" height="21.4" fill="#5769BD"/><rect x="1658.49" y="659.92" width="49.10" height="21.4" fill="#7A4FBC"/><rect x="1707.60" y="659.92" width="1.17" height="21.4" fill="#A84FA2"/><rect x="1708.76" y="659.92" width="2.19" height="21.4" fill="#AA4F4F"/><rect x="1710.95" y="659.92" width="2.91" height="21.4" fill="#B8A055"/><rect x="1713.86" y="659.92" width="14.84" height="21.4" fill="#98C058"/><rect x="764.90" y="685.74" width="2.48" height="21.4" fill="#AA4F4F"/><rect x="767.38" y="685.74" width="1.36" height="21.4" fill="#B8A055"/><rect x="768.74" y="685.74" width="26.23" height="21.4" fill="#98C058"/><rect x="794.97" y="685.74" width="14.96" height="21.4" fill="#7BBF6E"/><rect x="809.93" y="685.74" width="24.29" height="21.4" fill="#7DC0BE"/><rect x="834.22" y="685.74" width="3.50" height="21.4" fill="#5769BD"/><rect x="837.72" y="685.74" width="3.50" height="21.4" fill="#7A4FBC"/><rect x="841.21" y="685.74" width="106.86" height="21.4" fill="#A84FA2"/><rect x="948.07" y="685.74" width="2.33" height="21.4" fill="#AA4F4F"/><rect x="950.40" y="685.74" width="621.10" height="21.4" fill="#B8A055"/><rect x="1571.51" y="685.74" width="1.75" height="21.4" fill="#98C058"/><rect x="1573.25" y="685.74" width="2.19" height="21.4" fill="#7BBF6E"/><rect x="1575.44" y="685.74" width="47.36" height="21.4" fill="#7DC0BE"/><rect x="1622.79" y="685.74" width="28.85" height="21.4" fill="#5769BD"/><rect x="1651.65" y="685.74" width="4.66" height="21.4" fill="#7A4FBC"/><rect x="1656.31" y="685.74" width="11.37" height="21.4" fill="#A84FA2"/><rect x="1667.67" y="685.74" width="14.57" height="21.4" fill="#AA4F4F"/><rect x="1682.24" y="685.74" width="2.91" height="21.4" fill="#B8A055"/><rect x="1685.16" y="685.74" width="43.54" height="21.4" fill="#98C058"/><rect x="764.90" y="711.56" width="23.27" height="21.4" fill="#AA4F4F"/><rect x="788.17" y="711.56" width="3.30" height="21.4" fill="#B8A055"/><rect x="791.47" y="711.56" width="225.37" height="21.4" fill="#98C058"/><rect x="1016.85" y="711.56" width="3.50" height="21.4" fill="#7BBF6E"/><rect x="1020.35" y="711.56" width="4.86" height="21.4" fill="#7DC0BE"/><rect x="1025.20" y="711.56" width="3.89" height="21.4" fill="#5769BD"/><rect x="1029.09" y="711.56" width="2.91" height="21.4" fill="#7A4FBC"/><rect x="1032.00" y="711.56" width="2.91" height="21.4" fill="#A84FA2"/><rect x="1034.92" y="711.56" width="1.94" height="21.4" fill="#AA4F4F"/><rect x="1036.86" y="711.56" width="470.82" height="21.4" fill="#B8A055"/><rect x="1507.68" y="711.56" width="1.46" height="21.4" fill="#98C058"/><rect x="1509.14" y="711.56" width="0.73" height="21.4" fill="#7BBF6E"/><rect x="1509.87" y="711.56" width="4.37" height="21.4" fill="#7DC0BE"/><rect x="1514.24" y="711.56" width="2.19" height="21.4" fill="#5769BD"/><rect x="1516.43" y="711.56" width="2.19" height="21.4" fill="#7A4FBC"/><rect x="1518.61" y="711.56" width="8.74" height="21.4" fill="#A84FA2"/><rect x="1527.36" y="711.56" width="175.29" height="21.4" fill="#AA4F4F"/><rect x="1702.64" y="711.56" width="1.75" height="21.4" fill="#B8A055"/><rect x="1704.39" y="711.56" width="24.31" height="21.4" fill="#98C058"/><rect x="764.90" y="737.38" width="26.57" height="21.4" fill="#AA4F4F"/><rect x="791.47" y="737.38" width="6.99" height="21.4" fill="#B8A055"/><rect x="798.47" y="737.38" width="257.24" height="21.4" fill="#98C058"/><rect x="1055.71" y="737.38" width="12.24" height="21.4" fill="#7BBF6E"/><rect x="1067.95" y="737.38" width="7.19" height="21.4" fill="#7DC0BE"/><rect x="1075.14" y="737.38" width="8.94" height="21.4" fill="#5769BD"/><rect x="1084.07" y="737.38" width="2.33" height="21.4" fill="#7A4FBC"/><rect x="1086.40" y="737.38" width="1.94" height="21.4" fill="#A84FA2"/><rect x="1088.35" y="737.38" width="2.33" height="21.4" fill="#AA4F4F"/><rect x="1090.68" y="737.38" width="519.73" height="21.4" fill="#B8A055"/><rect x="1610.41" y="737.38" width="1.46" height="21.4" fill="#98C058"/><rect x="1611.87" y="737.38" width="2.19" height="21.4" fill="#7BBF6E"/><rect x="1614.05" y="737.38" width="35.70" height="21.4" fill="#7DC0BE"/><rect x="1649.75" y="737.38" width="1.46" height="21.4" fill="#5769BD"/><rect x="1651.21" y="737.38" width="1.46" height="21.4" fill="#7A4FBC"/><rect x="1652.67" y="737.38" width="9.47" height="21.4" fill="#A84FA2"/><rect x="1662.14" y="737.38" width="26.52" height="21.4" fill="#AA4F4F"/><rect x="1688.66" y="737.38" width="0.44" height="21.4" fill="#B8A055"/><rect x="1689.09" y="737.38" width="39.61" height="21.4" fill="#98C058"/><rect x="764.90" y="763.20" width="14.53" height="21.4" fill="#AA4F4F"/><rect x="779.43" y="763.20" width="4.86" height="21.4" fill="#B8A055"/><rect x="784.29" y="763.20" width="149.02" height="21.4" fill="#98C058"/><rect x="933.30" y="763.20" width="5.44" height="21.4" fill="#7BBF6E"/><rect x="938.74" y="763.20" width="2.33" height="21.4" fill="#7DC0BE"/><rect x="941.08" y="763.20" width="1.55" height="21.4" fill="#5769BD"/><rect x="942.63" y="763.20" width="1.55" height="21.4" fill="#7A4FBC"/><rect x="944.18" y="763.20" width="7.77" height="21.4" fill="#A84FA2"/><rect x="951.96" y="763.20" width="2.33" height="21.4" fill="#AA4F4F"/><rect x="954.29" y="763.20" width="735.53" height="21.4" fill="#B8A055"/><rect x="1689.82" y="763.20" width="1.46" height="21.4" fill="#98C058"/><rect x="1691.28" y="763.20" width="1.46" height="21.4" fill="#7BBF6E"/><rect x="1692.73" y="763.20" width="8.45" height="21.4" fill="#7DC0BE"/><rect x="1701.19" y="763.20" width="1.02" height="21.4" fill="#5769BD"/><rect x="1702.21" y="763.20" width="2.91" height="21.4" fill="#7A4FBC"/><rect x="1705.12" y="763.20" width="2.19" height="21.4" fill="#A84FA2"/><rect x="1707.31" y="763.20" width="2.19" height="21.4" fill="#AA4F4F"/><rect x="1709.49" y="763.20" width="3.64" height="21.4" fill="#B8A055"/><rect x="1713.13" y="763.20" width="15.57" height="21.4" fill="#98C058"/><rect x="764.90" y="789.02" width="25.21" height="21.4" fill="#AA4F4F"/><rect x="790.11" y="789.02" width="7.77" height="21.4" fill="#B8A055"/><rect x="797.89" y="789.02" width="252.57" height="21.4" fill="#98C058"/><rect x="1050.46" y="789.02" width="1.94" height="21.4" fill="#7BBF6E"/><rect x="1052.40" y="789.02" width="4.47" height="21.4" fill="#7DC0BE"/><rect x="1056.87" y="789.02" width="13.02" height="21.4" fill="#5769BD"/><rect x="1069.89" y="789.02" width="1.94" height="21.4" fill="#7A4FBC"/><rect x="1071.83" y="789.02" width="2.53" height="21.4" fill="#A84FA2"/><rect x="1074.36" y="789.02" width="2.33" height="21.4" fill="#AA4F4F"/><rect x="1076.69" y="789.02" width="618.23" height="21.4" fill="#B8A055"/><rect x="1694.92" y="789.02" width="1.46" height="21.4" fill="#98C058"/><rect x="1696.38" y="789.02" width="0.73" height="21.4" fill="#7BBF6E"/><rect x="1697.11" y="789.02" width="9.03" height="21.4" fill="#7DC0BE"/><rect x="1706.14" y="789.02" width="1.89" height="21.4" fill="#5769BD"/><rect x="1708.03" y="789.02" width="2.19" height="21.4" fill="#7A4FBC"/><rect x="1710.22" y="789.02" width="2.19" height="21.4" fill="#A84FA2"/><rect x="1712.41" y="789.02" width="2.19" height="21.4" fill="#AA4F4F"/><rect x="1714.59" y="789.02" width="4.37" height="21.4" fill="#B8A055"/><rect x="1718.96" y="789.02" width="9.74" height="21.4" fill="#98C058"/><rect x="764.90" y="814.84" width="0.98" height="21.4" fill="#AA4F4F"/><rect x="765.88" y="814.84" width="2.63" height="21.4" fill="#B8A055"/><rect x="768.50" y="814.84" width="19.33" height="21.4" fill="#98C058"/><rect x="787.83" y="814.84" width="1.86" height="21.4" fill="#7BBF6E"/><rect x="789.69" y="814.84" width="3.09" height="21.4" fill="#7DC0BE"/><rect x="792.78" y="814.84" width="0.46" height="21.4" fill="#5769BD"/><rect x="793.25" y="814.84" width="6.96" height="21.4" fill="#7A4FBC"/><rect x="800.20" y="814.84" width="5.41" height="21.4" fill="#A84FA2"/><rect x="805.62" y="814.84" width="36.03" height="21.4" fill="#AA4F4F"/><rect x="841.65" y="814.84" width="859.17" height="21.4" fill="#B8A055"/><rect x="1700.81" y="814.84" width="2.63" height="21.4" fill="#98C058"/><rect x="1703.44" y="814.84" width="2.63" height="21.4" fill="#7BBF6E"/><rect x="1706.07" y="814.84" width="6.65" height="21.4" fill="#7DC0BE"/><rect x="1712.72" y="814.84" width="1.55" height="21.4" fill="#5769BD"/><rect x="1714.27" y="814.84" width="2.01" height="21.4" fill="#7A4FBC"/><rect x="1716.28" y="814.84" width="1.08" height="21.4" fill="#A84FA2"/><rect x="1717.36" y="814.84" width="1.55" height="21.4" fill="#AA4F4F"/><rect x="1718.91" y="814.84" width="1.55" height="21.4" fill="#B8A055"/><rect x="1720.45" y="814.84" width="8.25" height="21.4" fill="#98C058"/><rect x="764.90" y="840.66" width="0.98" height="21.4" fill="#AA4F4F"/><rect x="765.88" y="840.66" width="1.08" height="21.4" fill="#B8A055"/><rect x="766.96" y="840.66" width="17.47" height="21.4" fill="#98C058"/><rect x="784.43" y="840.66" width="2.63" height="21.4" fill="#7BBF6E"/><rect x="787.06" y="840.66" width="2.32" height="21.4" fill="#7DC0BE"/><rect x="789.38" y="840.66" width="0.77" height="21.4" fill="#5769BD"/><rect x="790.15" y="840.66" width="5.10" height="21.4" fill="#7A4FBC"/><rect x="795.26" y="840.66" width="5.72" height="21.4" fill="#A84FA2"/><rect x="800.98" y="840.66" width="40.67" height="21.4" fill="#AA4F4F"/><rect x="841.65" y="840.66" width="830.87" height="21.4" fill="#B8A055"/><rect x="1672.52" y="840.66" width="1.55" height="21.4" fill="#98C058"/><rect x="1674.06" y="840.66" width="0.77" height="21.4" fill="#7BBF6E"/><rect x="1674.84" y="840.66" width="33.09" height="21.4" fill="#7DC0BE"/><rect x="1707.93" y="840.66" width="0.93" height="21.4" fill="#5769BD"/><rect x="1708.85" y="840.66" width="3.87" height="21.4" fill="#7A4FBC"/><rect x="1712.72" y="840.66" width="1.08" height="21.4" fill="#A84FA2"/><rect x="1713.80" y="840.66" width="0.93" height="21.4" fill="#AA4F4F"/><rect x="1714.73" y="840.66" width="4.64" height="21.4" fill="#B8A055"/><rect x="1719.37" y="840.66" width="9.33" height="21.4" fill="#98C058"/><rect x="764.90" y="866.48" width="0.98" height="21.4" fill="#AA4F4F"/><rect x="765.88" y="866.48" width="1.08" height="21.4" fill="#B8A055"/><rect x="766.96" y="866.48" width="10.05" height="21.4" fill="#98C058"/><rect x="777.01" y="866.48" width="2.32" height="21.4" fill="#7BBF6E"/><rect x="779.33" y="866.48" width="1.55" height="21.4" fill="#7DC0BE"/><rect x="780.88" y="866.48" width="0.77" height="21.4" fill="#5769BD"/><rect x="781.65" y="866.48" width="2.32" height="21.4" fill="#7A4FBC"/><rect x="783.97" y="866.48" width="2.63" height="21.4" fill="#A84FA2"/><rect x="786.60" y="866.48" width="63.86" height="21.4" fill="#AA4F4F"/><rect x="850.46" y="866.48" width="825.61" height="21.4" fill="#B8A055"/><rect x="1676.07" y="866.48" width="1.86" height="21.4" fill="#98C058"/><rect x="1677.93" y="866.48" width="0.77" height="21.4" fill="#7BBF6E"/><rect x="1678.70" y="866.48" width="8.04" height="21.4" fill="#7DC0BE"/><rect x="1686.74" y="866.48" width="1.24" height="21.4" fill="#5769BD"/><rect x="1687.98" y="866.48" width="2.01" height="21.4" fill="#7A4FBC"/><rect x="1689.99" y="866.48" width="1.08" height="21.4" fill="#A84FA2"/><rect x="1691.07" y="866.48" width="1.55" height="21.4" fill="#AA4F4F"/><rect x="1692.62" y="866.48" width="0.77" height="21.4" fill="#B8A055"/><rect x="1693.39" y="866.48" width="35.31" height="21.4" fill="#98C058"/><rect x="764.90" y="892.30" width="0.98" height="21.4" fill="#AA4F4F"/><rect x="765.88" y="892.30" width="1.08" height="21.4" fill="#B8A055"/><rect x="766.96" y="892.30" width="10.05" height="21.4" fill="#98C058"/><rect x="777.01" y="892.30" width="2.32" height="21.4" fill="#7BBF6E"/><rect x="779.33" y="892.30" width="2.01" height="21.4" fill="#7DC0BE"/><rect x="781.34" y="892.30" width="0.31" height="21.4" fill="#5769BD"/><rect x="781.65" y="892.30" width="4.64" height="21.4" fill="#7A4FBC"/><rect x="786.29" y="892.30" width="10.82" height="21.4" fill="#A84FA2"/><rect x="797.11" y="892.30" width="172.41" height="21.4" fill="#AA4F4F"/><rect x="969.53" y="892.30" width="726.19" height="21.4" fill="#B8A055"/><rect x="1695.71" y="892.30" width="1.55" height="21.4" fill="#98C058"/><rect x="1697.26" y="892.30" width="1.55" height="21.4" fill="#7BBF6E"/><rect x="1698.80" y="892.30" width="5.41" height="21.4" fill="#7DC0BE"/><rect x="1704.22" y="892.30" width="0.77" height="21.4" fill="#5769BD"/><rect x="1704.99" y="892.30" width="4.64" height="21.4" fill="#7A4FBC"/><rect x="1709.63" y="892.30" width="1.08" height="21.4" fill="#A84FA2"/><rect x="1710.71" y="892.30" width="0.46" height="21.4" fill="#AA4F4F"/><rect x="1711.17" y="892.30" width="0.77" height="21.4" fill="#B8A055"/><rect x="1711.95" y="892.30" width="16.75" height="21.4" fill="#98C058"/><rect x="764.90" y="918.12" width="2.83" height="21.4" fill="#AA4F4F"/><rect x="767.73" y="918.12" width="1.86" height="21.4" fill="#B8A055"/><rect x="769.59" y="918.12" width="25.67" height="21.4" fill="#98C058"/><rect x="795.26" y="918.12" width="2.63" height="21.4" fill="#7BBF6E"/><rect x="797.88" y="918.12" width="3.56" height="21.4" fill="#7DC0BE"/><rect x="801.44" y="918.12" width="2.63" height="21.4" fill="#5769BD"/><rect x="804.07" y="918.12" width="2.32" height="21.4" fill="#7A4FBC"/><rect x="806.39" y="918.12" width="6.96" height="21.4" fill="#A84FA2"/><rect x="813.35" y="918.12" width="3.09" height="21.4" fill="#AA4F4F"/><rect x="816.44" y="918.12" width="873.86" height="21.4" fill="#B8A055"/><rect x="1690.30" y="918.12" width="1.55" height="21.4" fill="#98C058"/><rect x="1691.84" y="918.12" width="0.77" height="21.4" fill="#7BBF6E"/><rect x="1692.62" y="918.12" width="8.20" height="21.4" fill="#7DC0BE"/><rect x="1700.81" y="918.12" width="0.62" height="21.4" fill="#5769BD"/><rect x="1701.43" y="918.12" width="8.66" height="21.4" fill="#7A4FBC"/><rect x="1710.09" y="918.12" width="1.86" height="21.4" fill="#A84FA2"/><rect x="1711.95" y="918.12" width="3.09" height="21.4" fill="#AA4F4F"/><rect x="1715.04" y="918.12" width="3.87" height="21.4" fill="#B8A055"/><rect x="1718.91" y="918.12" width="9.79" height="21.4" fill="#98C058"/><rect x="764.90" y="943.94" width="0.51" height="21.4" fill="#AA4F4F"/><rect x="765.41" y="943.94" width="1.55" height="21.4" fill="#B8A055"/><rect x="766.96" y="943.94" width="11.91" height="21.4" fill="#98C058"/><rect x="778.87" y="943.94" width="2.01" height="21.4" fill="#7BBF6E"/><rect x="780.88" y="943.94" width="2.01" height="21.4" fill="#7DC0BE"/><rect x="782.89" y="943.94" width="1.55" height="21.4" fill="#5769BD"/><rect x="784.43" y="943.94" width="2.16" height="21.4" fill="#7A4FBC"/><rect x="786.60" y="943.94" width="2.78" height="21.4" fill="#A84FA2"/><rect x="789.38" y="943.94" width="3.40" height="21.4" fill="#AA4F4F"/><rect x="792.78" y="943.94" width="906.79" height="21.4" fill="#B8A055"/><rect x="1699.58" y="943.94" width="1.24" height="21.4" fill="#98C058"/><rect x="1700.81" y="943.94" width="0.62" height="21.4" fill="#7BBF6E"/><rect x="1701.43" y="943.94" width="5.10" height="21.4" fill="#7DC0BE"/><rect x="1706.53" y="943.94" width="1.55" height="21.4" fill="#5769BD"/><rect x="1708.08" y="943.94" width="5.41" height="21.4" fill="#7A4FBC"/><rect x="1713.49" y="943.94" width="1.55" height="21.4" fill="#A84FA2"/><rect x="1715.04" y="943.94" width="1.24" height="21.4" fill="#AA4F4F"/><rect x="1716.28" y="943.94" width="2.63" height="21.4" fill="#B8A055"/><rect x="1718.91" y="943.94" width="9.79" height="21.4" fill="#98C058"/><rect x="764.90" y="969.76" width="2.83" height="21.4" fill="#AA4F4F"/><rect x="767.73" y="969.76" width="1.24" height="21.4" fill="#B8A055"/><rect x="768.97" y="969.76" width="15.46" height="21.4" fill="#98C058"/><rect x="784.43" y="969.76" width="2.63" height="21.4" fill="#7BBF6E"/><rect x="787.06" y="969.76" width="6.19" height="21.4" fill="#7DC0BE"/><rect x="793.25" y="969.76" width="2.01" height="21.4" fill="#5769BD"/><rect x="795.26" y="969.76" width="2.63" height="21.4" fill="#7A4FBC"/><rect x="797.88" y="969.76" width="3.56" height="21.4" fill="#A84FA2"/><rect x="801.44" y="969.76" width="2.63" height="21.4" fill="#AA4F4F"/><rect x="804.07" y="969.76" width="872.62" height="21.4" fill="#B8A055"/><rect x="1676.69" y="969.76" width="1.24" height="21.4" fill="#98C058"/><rect x="1677.93" y="969.76" width="0.31" height="21.4" fill="#7BBF6E"/><rect x="1678.24" y="969.76" width="24.43" height="21.4" fill="#7DC0BE"/><rect x="1702.67" y="969.76" width="1.24" height="21.4" fill="#5769BD"/><rect x="1703.91" y="969.76" width="1.86" height="21.4" fill="#7A4FBC"/><rect x="1705.76" y="969.76" width="2.32" height="21.4" fill="#A84FA2"/><rect x="1708.08" y="969.76" width="2.32" height="21.4" fill="#AA4F4F"/><rect x="1710.40" y="969.76" width="8.50" height="21.4" fill="#B8A055"/><rect x="1718.91" y="969.76" width="9.79" height="21.4" fill="#98C058"/><rect x="764.90" y="995.58" width="0.98" height="21.4" fill="#AA4F4F"/><rect x="765.88" y="995.58" width="1.08" height="21.4" fill="#B8A055"/><rect x="766.96" y="995.58" width="11.91" height="21.4" fill="#98C058"/><rect x="778.87" y="995.58" width="1.55" height="21.4" fill="#7BBF6E"/><rect x="780.41" y="995.58" width="1.55" height="21.4" fill="#7DC0BE"/><rect x="781.96" y="995.58" width="2.01" height="21.4" fill="#5769BD"/><rect x="783.97" y="995.58" width="2.01" height="21.4" fill="#7A4FBC"/><rect x="785.98" y="995.58" width="2.63" height="21.4" fill="#A84FA2"/><rect x="788.61" y="995.58" width="3.09" height="21.4" fill="#AA4F4F"/><rect x="791.70" y="995.58" width="918.39" height="21.4" fill="#B8A055"/><rect x="1710.09" y="995.58" width="1.08" height="21.4" fill="#98C058"/><rect x="1711.17" y="995.58" width="0.46" height="21.4" fill="#7BBF6E"/><rect x="1711.64" y="995.58" width="6.80" height="21.4" fill="#7DC0BE"/><rect x="1718.44" y="995.58" width="1.24" height="21.4" fill="#5769BD"/><rect x="1719.68" y="995.58" width="2.32" height="21.4" fill="#7A4FBC"/><rect x="1722.00" y="995.58" width="1.08" height="21.4" fill="#A84FA2"/><rect x="1723.08" y="995.58" width="1.24" height="21.4" fill="#AA4F4F"/><rect x="1724.32" y="995.58" width="1.55" height="21.4" fill="#B8A055"/><rect x="1725.86" y="995.58" width="2.84" height="21.4" fill="#98C058"/><rect x="764.90" y="1021.40" width="0.98" height="21.4" fill="#AA4F4F"/><rect x="765.88" y="1021.40" width="1.08" height="21.4" fill="#B8A055"/><rect x="766.96" y="1021.40" width="11.91" height="21.4" fill="#98C058"/><rect x="778.87" y="1021.40" width="1.55" height="21.4" fill="#7BBF6E"/><rect x="780.41" y="1021.40" width="1.55" height="21.4" fill="#7DC0BE"/><rect x="781.96" y="1021.40" width="1.55" height="21.4" fill="#5769BD"/><rect x="783.50" y="1021.40" width="2.01" height="21.4" fill="#7A4FBC"/><rect x="785.51" y="1021.40" width="2.01" height="21.4" fill="#A84FA2"/><rect x="787.52" y="1021.40" width="2.16" height="21.4" fill="#AA4F4F"/><rect x="789.69" y="1021.40" width="922.26" height="21.4" fill="#B8A055"/><rect x="1711.95" y="1021.40" width="0.77" height="21.4" fill="#98C058"/><rect x="1712.72" y="1021.40" width="0.46" height="21.4" fill="#7BBF6E"/><rect x="1713.18" y="1021.40" width="5.26" height="21.4" fill="#7DC0BE"/><rect x="1718.44" y="1021.40" width="1.55" height="21.4" fill="#5769BD"/><rect x="1719.99" y="1021.40" width="1.55" height="21.4" fill="#7A4FBC"/><rect x="1721.53" y="1021.40" width="1.24" height="21.4" fill="#A84FA2"/><rect x="1722.77" y="1021.40" width="1.55" height="21.4" fill="#AA4F4F"/><rect x="1724.32" y="1021.40" width="1.55" height="21.4" fill="#B8A055"/><rect x="1725.86" y="1021.40" width="2.84" height="21.4" fill="#98C058"/><rect x="764.90" y="1047.22" width="0.98" height="21.4" fill="#AA4F4F"/><rect x="765.88" y="1047.22" width="1.08" height="21.4" fill="#B8A055"/><rect x="766.96" y="1047.22" width="10.05" height="21.4" fill="#98C058"/><rect x="777.01" y="1047.22" width="1.24" height="21.4" fill="#7BBF6E"/><rect x="778.25" y="1047.22" width="1.55" height="21.4" fill="#7DC0BE"/><rect x="779.79" y="1047.22" width="1.55" height="21.4" fill="#5769BD"/><rect x="781.34" y="1047.22" width="1.55" height="21.4" fill="#7A4FBC"/><rect x="782.89" y="1047.22" width="2.63" height="21.4" fill="#A84FA2"/><rect x="785.51" y="1047.22" width="2.32" height="21.4" fill="#AA4F4F"/><rect x="787.83" y="1047.22" width="924.11" height="21.4" fill="#B8A055"/><rect x="1711.95" y="1047.22" width="0.77" height="21.4" fill="#98C058"/><rect x="1712.72" y="1047.22" width="0.77" height="21.4" fill="#7BBF6E"/><rect x="1713.49" y="1047.22" width="6.96" height="21.4" fill="#7DC0BE"/><rect x="1720.45" y="1047.22" width="0.77" height="21.4" fill="#5769BD"/><rect x="1721.22" y="1047.22" width="2.32" height="21.4" fill="#7A4FBC"/><rect x="1723.54" y="1047.22" width="1.08" height="21.4" fill="#A84FA2"/><rect x="1724.63" y="1047.22" width="1.24" height="21.4" fill="#AA4F4F"/><rect x="1725.86" y="1047.22" width="1.55" height="21.4" fill="#B8A055"/><rect x="1727.41" y="1047.22" width="1.29" height="21.4" fill="#98C058"/><rect x="764.90" y="1073.04" width="0.98" height="21.4" fill="#AA4F4F"/><rect x="765.88" y="1073.04" width="1.08" height="21.4" fill="#B8A055"/><rect x="766.96" y="1073.04" width="10.05" height="21.4" fill="#98C058"/><rect x="777.01" y="1073.04" width="1.55" height="21.4" fill="#7BBF6E"/><rect x="778.56" y="1073.04" width="1.55" height="21.4" fill="#7DC0BE"/><rect x="780.10" y="1073.04" width="1.55" height="21.4" fill="#5769BD"/><rect x="781.65" y="1073.04" width="2.32" height="21.4" fill="#7A4FBC"/><rect x="783.97" y="1073.04" width="3.56" height="21.4" fill="#A84FA2"/><rect x="787.52" y="1073.04" width="3.40" height="21.4" fill="#AA4F4F"/><rect x="790.93" y="1073.04" width="919.16" height="21.4" fill="#B8A055"/><rect x="1710.09" y="1073.04" width="1.08" height="21.4" fill="#98C058"/><rect x="1711.17" y="1073.04" width="0.77" height="21.4" fill="#7BBF6E"/><rect x="1711.95" y="1073.04" width="4.95" height="21.4" fill="#7DC0BE"/><rect x="1716.90" y="1073.04" width="1.24" height="21.4" fill="#5769BD"/><rect x="1718.13" y="1073.04" width="2.32" height="21.4" fill="#7A4FBC"/><rect x="1720.45" y="1073.04" width="1.55" height="21.4" fill="#A84FA2"/><rect x="1722.00" y="1073.04" width="1.55" height="21.4" fill="#AA4F4F"/><rect x="1723.54" y="1073.04" width="1.55" height="21.4" fill="#B8A055"/><rect x="1725.09" y="1073.04" width="3.61" height="21.4" fill="#98C058"/><rect x="764.90" y="1098.86" width="0.98" height="21.4" fill="#AA4F4F"/><rect x="765.88" y="1098.86" width="1.08" height="21.4" fill="#B8A055"/><rect x="766.96" y="1098.86" width="13.45" height="21.4" fill="#98C058"/><rect x="780.41" y="1098.86" width="1.24" height="21.4" fill="#7BBF6E"/><rect x="781.65" y="1098.86" width="1.55" height="21.4" fill="#7DC0BE"/><rect x="783.19" y="1098.86" width="1.55" height="21.4" fill="#5769BD"/><rect x="784.74" y="1098.86" width="2.32" height="21.4" fill="#7A4FBC"/><rect x="787.06" y="1098.86" width="3.09" height="21.4" fill="#A84FA2"/><rect x="790.15" y="1098.86" width="3.09" height="21.4" fill="#AA4F4F"/><rect x="793.25" y="1098.86" width="914.84" height="21.4" fill="#B8A055"/><rect x="1708.08" y="1098.86" width="0.77" height="21.4" fill="#98C058"/><rect x="1708.85" y="1098.86" width="0.77" height="21.4" fill="#7BBF6E"/><rect x="1709.63" y="1098.86" width="6.96" height="21.4" fill="#7DC0BE"/><rect x="1716.59" y="1098.86" width="1.24" height="21.4" fill="#5769BD"/><rect x="1717.82" y="1098.86" width="2.63" height="21.4" fill="#7A4FBC"/><rect x="1720.45" y="1098.86" width="1.55" height="21.4" fill="#A84FA2"/><rect x="1722.00" y="1098.86" width="1.55" height="21.4" fill="#AA4F4F"/><rect x="1723.54" y="1098.86" width="1.55" height="21.4" fill="#B8A055"/><rect x="1725.09" y="1098.86" width="3.61" height="21.4" fill="#98C058"/><rect x="764.90" y="1124.68" width="0.98" height="21.4" fill="#AA4F4F"/><rect x="765.88" y="1124.68" width="1.86" height="21.4" fill="#B8A055"/><rect x="767.73" y="1124.68" width="11.13" height="21.4" fill="#98C058"/><rect x="778.87" y="1124.68" width="1.24" height="21.4" fill="#7BBF6E"/><rect x="780.10" y="1124.68" width="1.55" height="21.4" fill="#7DC0BE"/><rect x="781.65" y="1124.68" width="0.77" height="21.4" fill="#5769BD"/><rect x="782.42" y="1124.68" width="3.56" height="21.4" fill="#7A4FBC"/><rect x="785.98" y="1124.68" width="1.86" height="21.4" fill="#A84FA2"/><rect x="787.83" y="1124.68" width="3.40" height="21.4" fill="#AA4F4F"/><rect x="791.24" y="1124.68" width="915.30" height="21.4" fill="#B8A055"/><rect x="1706.53" y="1124.68" width="2.32" height="21.4" fill="#98C058"/><rect x="1708.85" y="1124.68" width="2.32" height="21.4" fill="#7BBF6E"/><rect x="1711.17" y="1124.68" width="7.27" height="21.4" fill="#7DC0BE"/><rect x="1718.44" y="1124.68" width="1.24" height="21.4" fill="#5769BD"/><rect x="1719.68" y="1124.68" width="3.87" height="21.4" fill="#7A4FBC"/><rect x="1723.54" y="1124.68" width="1.55" height="21.4" fill="#A84FA2"/><rect x="1725.09" y="1124.68" width="1.08" height="21.4" fill="#AA4F4F"/><rect x="1726.17" y="1124.68" width="0.93" height="21.4" fill="#B8A055"/><rect x="1727.10" y="1124.68" width="1.60" height="21.4" fill="#98C058"/><rect x="764.90" y="1150.50" width="0.98" height="21.4" fill="#AA4F4F"/><rect x="765.88" y="1150.50" width="1.08" height="21.4" fill="#B8A055"/><rect x="766.96" y="1150.50" width="17.01" height="21.4" fill="#98C058"/><rect x="783.97" y="1150.50" width="1.55" height="21.4" fill="#7BBF6E"/><rect x="785.51" y="1150.50" width="1.55" height="21.4" fill="#7DC0BE"/><rect x="787.06" y="1150.50" width="1.55" height="21.4" fill="#5769BD"/><rect x="788.61" y="1150.50" width="2.32" height="21.4" fill="#7A4FBC"/><rect x="790.93" y="1150.50" width="2.32" height="21.4" fill="#A84FA2"/><rect x="793.25" y="1150.50" width="2.01" height="21.4" fill="#AA4F4F"/><rect x="795.26" y="1150.50" width="914.84" height="21.4" fill="#B8A055"/><rect x="1710.09" y="1150.50" width="1.55" height="21.4" fill="#98C058"/><rect x="1711.64" y="1150.50" width="1.08" height="21.4" fill="#7BBF6E"/><rect x="1712.72" y="1150.50" width="5.72" height="21.4" fill="#7DC0BE"/><rect x="1718.44" y="1150.50" width="1.24" height="21.4" fill="#5769BD"/><rect x="1719.68" y="1150.50" width="3.40" height="21.4" fill="#7A4FBC"/><rect x="1723.08" y="1150.50" width="1.24" height="21.4" fill="#A84FA2"/><rect x="1724.32" y="1150.50" width="1.24" height="21.4" fill="#AA4F4F"/><rect x="1725.55" y="1150.50" width="1.08" height="21.4" fill="#B8A055"/><rect x="1726.64" y="1150.50" width="2.06" height="21.4" fill="#98C058"/><rect x="764.90" y="1176.32" width="0.98" height="21.4" fill="#AA4F4F"/><rect x="765.88" y="1176.32" width="1.86" height="21.4" fill="#B8A055"/><rect x="767.73" y="1176.32" width="9.59" height="21.4" fill="#98C058"/><rect x="777.32" y="1176.32" width="1.55" height="21.4" fill="#7BBF6E"/><rect x="778.87" y="1176.32" width="1.55" height="21.4" fill="#7DC0BE"/><rect x="780.41" y="1176.32" width="1.55" height="21.4" fill="#5769BD"/><rect x="781.96" y="1176.32" width="2.01" height="21.4" fill="#7A4FBC"/><rect x="783.97" y="1176.32" width="3.09" height="21.4" fill="#A84FA2"/><rect x="787.06" y="1176.32" width="2.63" height="21.4" fill="#AA4F4F"/><rect x="789.69" y="1176.32" width="917.31" height="21.4" fill="#B8A055"/><rect x="1707.00" y="1176.32" width="1.08" height="21.4" fill="#98C058"/><rect x="1708.08" y="1176.32" width="0.46" height="21.4" fill="#7BBF6E"/><rect x="1708.54" y="1176.32" width="8.04" height="21.4" fill="#7DC0BE"/><rect x="1716.59" y="1176.32" width="1.55" height="21.4" fill="#5769BD"/><rect x="1718.13" y="1176.32" width="1.86" height="21.4" fill="#7A4FBC"/><rect x="1719.99" y="1176.32" width="1.24" height="21.4" fill="#A84FA2"/><rect x="1721.22" y="1176.32" width="1.55" height="21.4" fill="#AA4F4F"/><rect x="1722.77" y="1176.32" width="1.55" height="21.4" fill="#B8A055"/><rect x="1724.32" y="1176.32" width="4.38" height="21.4" fill="#98C058"/><rect x="764.90" y="1202.14" width="0.98" height="21.4" fill="#AA4F4F"/><rect x="765.88" y="1202.14" width="1.86" height="21.4" fill="#B8A055"/><rect x="767.73" y="1202.14" width="14.69" height="21.4" fill="#98C058"/><rect x="782.42" y="1202.14" width="1.08" height="21.4" fill="#7BBF6E"/><rect x="783.50" y="1202.14" width="1.55" height="21.4" fill="#7DC0BE"/><rect x="785.05" y="1202.14" width="1.55" height="21.4" fill="#5769BD"/><rect x="786.60" y="1202.14" width="2.01" height="21.4" fill="#7A4FBC"/><rect x="788.61" y="1202.14" width="2.32" height="21.4" fill="#A84FA2"/><rect x="790.93" y="1202.14" width="1.86" height="21.4" fill="#AA4F4F"/><rect x="792.78" y="1202.14" width="910.66" height="21.4" fill="#B8A055"/><rect x="1703.44" y="1202.14" width="2.01" height="21.4" fill="#98C058"/><rect x="1705.45" y="1202.14" width="1.08" height="21.4" fill="#7BBF6E"/><rect x="1706.53" y="1202.14" width="6.65" height="21.4" fill="#7DC0BE"/><rect x="1713.18" y="1202.14" width="0.62" height="21.4" fill="#5769BD"/><rect x="1713.80" y="1202.14" width="2.47" height="21.4" fill="#7A4FBC"/><rect x="1716.28" y="1202.14" width="1.86" height="21.4" fill="#A84FA2"/><rect x="1718.13" y="1202.14" width="2.32" height="21.4" fill="#AA4F4F"/><rect x="1720.45" y="1202.14" width="2.32" height="21.4" fill="#B8A055"/><rect x="1722.77" y="1202.14" width="5.93" height="21.4" fill="#98C058"/><rect x="764.90" y="1227.96" width="3.14" height="21.4" fill="#AA4F4F"/><rect x="768.04" y="1227.96" width="0.46" height="21.4" fill="#B8A055"/><rect x="768.50" y="1227.96" width="29.84" height="21.4" fill="#98C058"/><rect x="798.35" y="1227.96" width="5.26" height="21.4" fill="#7BBF6E"/><rect x="803.61" y="1227.96" width="14.38" height="21.4" fill="#7DC0BE"/><rect x="817.99" y="1227.96" width="0.77" height="21.4" fill="#5769BD"/><rect x="818.76" y="1227.96" width="0.77" height="21.4" fill="#7A4FBC"/><rect x="819.53" y="1227.96" width="0.77" height="21.4" fill="#A84FA2"/><rect x="820.31" y="1227.96" width="14.69" height="21.4" fill="#AA4F4F"/><rect x="835.00" y="1227.96" width="851.90" height="21.4" fill="#B8A055"/><rect x="1686.90" y="1227.96" width="1.08" height="21.4" fill="#98C058"/><rect x="1687.98" y="1227.96" width="0.46" height="21.4" fill="#7BBF6E"/><rect x="1688.44" y="1227.96" width="5.26" height="21.4" fill="#7DC0BE"/><rect x="1693.70" y="1227.96" width="2.01" height="21.4" fill="#5769BD"/><rect x="1695.71" y="1227.96" width="1.55" height="21.4" fill="#7A4FBC"/><rect x="1697.26" y="1227.96" width="1.55" height="21.4" fill="#A84FA2"/><rect x="1698.80" y="1227.96" width="1.55" height="21.4" fill="#AA4F4F"/><rect x="1700.35" y="1227.96" width="2.32" height="21.4" fill="#B8A055"/><rect x="1702.67" y="1227.96" width="26.03" height="21.4" fill="#98C058"/><rect x="764.90" y="1253.78" width="3.14" height="21.4" fill="#AA4F4F"/><rect x="768.04" y="1253.78" width="0.93" height="21.4" fill="#B8A055"/><rect x="768.97" y="1253.78" width="24.28" height="21.4" fill="#98C058"/><rect x="793.25" y="1253.78" width="5.10" height="21.4" fill="#7BBF6E"/><rect x="798.35" y="1253.78" width="17.32" height="21.4" fill="#7DC0BE"/><rect x="815.67" y="1253.78" width="1.24" height="21.4" fill="#5769BD"/><rect x="816.90" y="1253.78" width="1.08" height="21.4" fill="#7A4FBC"/><rect x="817.99" y="1253.78" width="0.77" height="21.4" fill="#A84FA2"/><rect x="818.76" y="1253.78" width="1.55" height="21.4" fill="#AA4F4F"/><rect x="820.31" y="1253.78" width="863.03" height="21.4" fill="#B8A055"/><rect x="1683.34" y="1253.78" width="0.77" height="21.4" fill="#98C058"/><rect x="1684.11" y="1253.78" width="0.31" height="21.4" fill="#7BBF6E"/><rect x="1684.42" y="1253.78" width="5.88" height="21.4" fill="#7DC0BE"/><rect x="1690.30" y="1253.78" width="4.64" height="21.4" fill="#5769BD"/><rect x="1694.94" y="1253.78" width="0.77" height="21.4" fill="#7A4FBC"/><rect x="1695.71" y="1253.78" width="4.64" height="21.4" fill="#A84FA2"/><rect x="1700.35" y="1253.78" width="2.32" height="21.4" fill="#AA4F4F"/><rect x="1702.67" y="1253.78" width="2.32" height="21.4" fill="#B8A055"/><rect x="1704.99" y="1253.78" width="23.71" height="21.4" fill="#98C058"/><rect x="764.90" y="1279.60" width="0.51" height="21.4" fill="#AA4F4F"/><rect x="765.41" y="1279.60" width="0.77" height="21.4" fill="#B8A055"/><rect x="766.19" y="1279.60" width="8.97" height="21.4" fill="#98C058"/><rect x="775.15" y="1279.60" width="0.31" height="21.4" fill="#7BBF6E"/><rect x="775.46" y="1279.60" width="4.95" height="21.4" fill="#7DC0BE"/><rect x="780.41" y="1279.60" width="0.93" height="21.4" fill="#5769BD"/><rect x="781.34" y="1279.60" width="1.08" height="21.4" fill="#7A4FBC"/><rect x="782.42" y="1279.60" width="0.77" height="21.4" fill="#A84FA2"/><rect x="783.19" y="1279.60" width="4.64" height="21.4" fill="#AA4F4F"/><rect x="787.83" y="1279.60" width="912.98" height="21.4" fill="#B8A055"/><rect x="1700.81" y="1279.60" width="0.62" height="21.4" fill="#98C058"/><rect x="1701.43" y="1279.60" width="0.46" height="21.4" fill="#7BBF6E"/><rect x="1701.90" y="1279.60" width="4.18" height="21.4" fill="#7DC0BE"/><rect x="1706.07" y="1279.60" width="3.09" height="21.4" fill="#5769BD"/><rect x="1709.16" y="1279.60" width="1.24" height="21.4" fill="#7A4FBC"/><rect x="1710.40" y="1279.60" width="2.32" height="21.4" fill="#A84FA2"/><rect x="1712.72" y="1279.60" width="0.77" height="21.4" fill="#AA4F4F"/><rect x="1713.49" y="1279.60" width="0.77" height="21.4" fill="#B8A055"/><rect x="1714.27" y="1279.60" width="14.43" height="21.4" fill="#98C058"/><rect x="764.90" y="1305.42" width="0.51" height="21.4" fill="#AA4F4F"/><rect x="765.41" y="1305.42" width="0.77" height="21.4" fill="#B8A055"/><rect x="766.19" y="1305.42" width="10.82" height="21.4" fill="#98C058"/><rect x="777.01" y="1305.42" width="1.24" height="21.4" fill="#7BBF6E"/><rect x="778.25" y="1305.42" width="7.27" height="21.4" fill="#7DC0BE"/><rect x="785.51" y="1305.42" width="1.08" height="21.4" fill="#5769BD"/><rect x="786.60" y="1305.42" width="1.24" height="21.4" fill="#7A4FBC"/><rect x="787.83" y="1305.42" width="0.77" height="21.4" fill="#A84FA2"/><rect x="788.61" y="1305.42" width="1.55" height="21.4" fill="#AA4F4F"/><rect x="790.15" y="1305.42" width="914.06" height="21.4" fill="#B8A055"/><rect x="1704.22" y="1305.42" width="0.77" height="21.4" fill="#98C058"/><rect x="1704.99" y="1305.42" width="0.46" height="21.4" fill="#7BBF6E"/><rect x="1705.45" y="1305.42" width="2.16" height="21.4" fill="#7DC0BE"/><rect x="1707.62" y="1305.42" width="3.56" height="21.4" fill="#5769BD"/><rect x="1711.17" y="1305.42" width="1.55" height="21.4" fill="#7A4FBC"/><rect x="1712.72" y="1305.42" width="1.08" height="21.4" fill="#A84FA2"/><rect x="1713.80" y="1305.42" width="0.93" height="21.4" fill="#AA4F4F"/><rect x="1714.73" y="1305.42" width="1.08" height="21.4" fill="#B8A055"/><rect x="1715.81" y="1305.42" width="12.89" height="21.4" fill="#98C058"/><rect x="764.90" y="1331.24" width="1.13" height="21.4" fill="#AA4F4F"/><rect x="766.03" y="1331.24" width="75.43" height="21.4" fill="#B8A055"/><rect x="841.46" y="1331.24" width="35.07" height="21.4" fill="#98C058"/><rect x="876.54" y="1331.24" width="2.64" height="21.4" fill="#7BBF6E"/><rect x="879.18" y="1331.24" width="9.99" height="21.4" fill="#7DC0BE"/><rect x="889.17" y="1331.24" width="2.83" height="21.4" fill="#5769BD"/><rect x="892.00" y="1331.24" width="3.39" height="21.4" fill="#7A4FBC"/><rect x="895.40" y="1331.24" width="3.21" height="21.4" fill="#A84FA2"/><rect x="898.60" y="1331.24" width="2.45" height="21.4" fill="#AA4F4F"/><rect x="901.05" y="1331.24" width="358.47" height="21.4" fill="#B8A055"/><rect x="1259.52" y="1331.24" width="0.57" height="21.4" fill="#98C058"/><rect x="1260.09" y="1331.24" width="0.19" height="21.4" fill="#7BBF6E"/><rect x="1260.28" y="1331.24" width="6.79" height="21.4" fill="#7DC0BE"/><rect x="1267.06" y="1331.24" width="0.57" height="21.4" fill="#5769BD"/><rect x="1267.63" y="1331.24" width="421.04" height="21.4" fill="#7A4FBC"/><rect x="1688.67" y="1331.24" width="8.42" height="21.4" fill="#A84FA2"/><rect x="1697.09" y="1331.24" width="1.53" height="21.4" fill="#AA4F4F"/><rect x="1698.62" y="1331.24" width="19.91" height="21.4" fill="#B8A055"/><rect x="1718.53" y="1331.24" width="10.17" height="21.4" fill="#98C058"/><rect x="764.90" y="1357.06" width="55.44" height="21.4" fill="#AA4F4F"/><rect x="820.34" y="1357.06" width="11.88" height="21.4" fill="#B8A055"/><rect x="832.22" y="1357.06" width="524.98" height="21.4" fill="#98C058"/><rect x="1357.20" y="1357.06" width="39.22" height="21.4" fill="#7BBF6E"/><rect x="1396.42" y="1357.06" width="31.33" height="21.4" fill="#7DC0BE"/><rect x="1427.76" y="1357.06" width="17.80" height="21.4" fill="#5769BD"/><rect x="1445.56" y="1357.06" width="21.44" height="21.4" fill="#7A4FBC"/><rect x="1467.00" y="1357.06" width="1.53" height="21.4" fill="#A84FA2"/><rect x="1468.53" y="1357.06" width="1.91" height="21.4" fill="#AA4F4F"/><rect x="1470.44" y="1357.06" width="173.05" height="21.4" fill="#B8A055"/><rect x="1643.49" y="1357.06" width="1.15" height="21.4" fill="#98C058"/><rect x="1644.64" y="1357.06" width="0.38" height="21.4" fill="#7BBF6E"/><rect x="1645.02" y="1357.06" width="3.83" height="21.4" fill="#7DC0BE"/><rect x="1648.85" y="1357.06" width="1.91" height="21.4" fill="#5769BD"/><rect x="1650.77" y="1357.06" width="1.53" height="21.4" fill="#7A4FBC"/><rect x="1652.30" y="1357.06" width="1.34" height="21.4" fill="#A84FA2"/><rect x="1653.64" y="1357.06" width="1.91" height="21.4" fill="#AA4F4F"/><rect x="1655.55" y="1357.06" width="1.34" height="21.4" fill="#B8A055"/><rect x="1656.89" y="1357.06" width="71.81" height="21.4" fill="#98C058"/><rect x="764.90" y="1382.88" width="78.45" height="21.4" fill="#AA4F4F"/><rect x="843.35" y="1382.88" width="15.65" height="21.4" fill="#B8A055"/><rect x="859.00" y="1382.88" width="602.26" height="21.4" fill="#98C058"/><rect x="1461.26" y="1382.88" width="25.27" height="21.4" fill="#7BBF6E"/><rect x="1486.52" y="1382.88" width="7.27" height="21.4" fill="#7DC0BE"/><rect x="1493.80" y="1382.88" width="32.16" height="21.4" fill="#5769BD"/><rect x="1525.96" y="1382.88" width="1.34" height="21.4" fill="#7A4FBC"/><rect x="1527.30" y="1382.88" width="6.70" height="21.4" fill="#A84FA2"/><rect x="1534.00" y="1382.88" width="2.30" height="21.4" fill="#AA4F4F"/><rect x="1536.29" y="1382.88" width="87.29" height="21.4" fill="#B8A055"/><rect x="1623.58" y="1382.88" width="1.34" height="21.4" fill="#98C058"/><rect x="1624.92" y="1382.88" width="1.91" height="21.4" fill="#7BBF6E"/><rect x="1626.84" y="1382.88" width="4.79" height="21.4" fill="#7DC0BE"/><rect x="1631.62" y="1382.88" width="16.85" height="21.4" fill="#5769BD"/><rect x="1648.47" y="1382.88" width="2.30" height="21.4" fill="#7A4FBC"/><rect x="1650.77" y="1382.88" width="5.36" height="21.4" fill="#A84FA2"/><rect x="1656.13" y="1382.88" width="14.74" height="21.4" fill="#AA4F4F"/><rect x="1670.87" y="1382.88" width="0.57" height="21.4" fill="#B8A055"/><rect x="1671.44" y="1382.88" width="57.26" height="21.4" fill="#98C058"/><rect x="764.90" y="1408.70" width="0.76" height="21.4" fill="#AA4F4F"/><rect x="765.66" y="1408.70" width="0.19" height="21.4" fill="#B8A055"/><rect x="765.85" y="1408.70" width="10.18" height="21.4" fill="#98C058"/><rect x="776.03" y="1408.70" width="1.32" height="21.4" fill="#7BBF6E"/><rect x="777.35" y="1408.70" width="0.57" height="21.4" fill="#7DC0BE"/><rect x="777.91" y="1408.70" width="0.57" height="21.4" fill="#5769BD"/><rect x="778.48" y="1408.70" width="624.36" height="21.4" fill="#7A4FBC"/><rect x="1402.84" y="1408.70" width="1.51" height="21.4" fill="#A84FA2"/><rect x="1404.34" y="1408.70" width="3.70" height="21.4" fill="#AA4F4F"/><rect x="1408.04" y="1408.70" width="307.43" height="21.4" fill="#B8A055"/><rect x="1715.47" y="1408.70" width="0.77" height="21.4" fill="#98C058"/><rect x="1716.23" y="1408.70" width="0.57" height="21.4" fill="#7BBF6E"/><rect x="1716.81" y="1408.70" width="4.40" height="21.4" fill="#7DC0BE"/><rect x="1721.21" y="1408.70" width="1.34" height="21.4" fill="#5769BD"/><rect x="1722.55" y="1408.70" width="1.34" height="21.4" fill="#7A4FBC"/><rect x="1723.89" y="1408.70" width="1.53" height="21.4" fill="#A84FA2"/><rect x="1725.42" y="1408.70" width="1.53" height="21.4" fill="#AA4F4F"/><rect x="1726.95" y="1408.70" width="1.34" height="21.4" fill="#B8A055"/><rect x="1728.29" y="1408.70" width="0.41" height="21.4" fill="#98C058"/><rect x="764.90" y="1434.52" width="9.24" height="21.4" fill="#AA4F4F"/><rect x="774.14" y="1434.52" width="1.32" height="21.4" fill="#B8A055"/><rect x="775.46" y="1434.52" width="69.39" height="21.4" fill="#98C058"/><rect x="844.86" y="1434.52" width="1.51" height="21.4" fill="#7BBF6E"/><rect x="846.37" y="1434.52" width="7.92" height="21.4" fill="#7DC0BE"/><rect x="854.29" y="1434.52" width="1.51" height="21.4" fill="#5769BD"/><rect x="855.79" y="1434.52" width="14.52" height="21.4" fill="#7A4FBC"/><rect x="870.31" y="1434.52" width="1.32" height="21.4" fill="#A84FA2"/><rect x="871.63" y="1434.52" width="0.57" height="21.4" fill="#AA4F4F"/><rect x="872.20" y="1434.52" width="56.01" height="21.4" fill="#B8A055"/><rect x="928.21" y="1434.52" width="60.34" height="21.4" fill="#98C058"/><rect x="988.55" y="1434.52" width="705.29" height="21.4" fill="#7BBF6E"/><rect x="1693.84" y="1434.52" width="4.79" height="21.4" fill="#7DC0BE"/><rect x="1698.62" y="1434.52" width="1.53" height="21.4" fill="#5769BD"/><rect x="1700.15" y="1434.52" width="1.91" height="21.4" fill="#7A4FBC"/><rect x="1702.07" y="1434.52" width="1.34" height="21.4" fill="#A84FA2"/><rect x="1703.41" y="1434.52" width="4.79" height="21.4" fill="#AA4F4F"/><rect x="1708.19" y="1434.52" width="0.38" height="21.4" fill="#B8A055"/><rect x="1708.58" y="1434.52" width="20.12" height="21.4" fill="#98C058"/><rect x="764.90" y="1460.34" width="0.76" height="21.4" fill="#AA4F4F"/><rect x="765.66" y="1460.34" width="0.19" height="21.4" fill="#B8A055"/><rect x="765.85" y="1460.34" width="9.24" height="21.4" fill="#98C058"/><rect x="775.09" y="1460.34" width="1.51" height="21.4" fill="#7BBF6E"/><rect x="776.59" y="1460.34" width="1.32" height="21.4" fill="#7DC0BE"/><rect x="777.91" y="1460.34" width="0.94" height="21.4" fill="#5769BD"/><rect x="778.86" y="1460.34" width="1.89" height="21.4" fill="#7A4FBC"/><rect x="780.74" y="1460.34" width="1.51" height="21.4" fill="#A84FA2"/><rect x="782.25" y="1460.34" width="1.89" height="21.4" fill="#AA4F4F"/><rect x="784.14" y="1460.34" width="64.11" height="21.4" fill="#B8A055"/><rect x="848.25" y="1460.34" width="1.32" height="21.4" fill="#98C058"/><rect x="849.57" y="1460.34" width="1.89" height="21.4" fill="#7BBF6E"/><rect x="851.46" y="1460.34" width="858.65" height="21.4" fill="#7DC0BE"/><rect x="1710.11" y="1460.34" width="1.53" height="21.4" fill="#5769BD"/><rect x="1711.64" y="1460.34" width="1.34" height="21.4" fill="#7A4FBC"/><rect x="1712.98" y="1460.34" width="9.00" height="21.4" fill="#A84FA2"/><rect x="1721.98" y="1460.34" width="1.15" height="21.4" fill="#AA4F4F"/><rect x="1723.12" y="1460.34" width="1.34" height="21.4" fill="#B8A055"/><rect x="1724.46" y="1460.34" width="4.24" height="21.4" fill="#98C058"/></g>
<path d="M764.90 117.70H1728.70M764.90 139.10H1728.70M764.90 143.52H1728.70M764.90 164.92H1728.70M764.90 169.34H1728.70M764.90 190.74H1728.70M764.90 195.16H1728.70M764.90 216.56H1728.70M764.90 220.98H1728.70M764.90 242.38H1728.70M764.90 246.80H1728.70M764.90 268.20H1728.70M764.90 272.62H1728.70M764.90 294.02H1728.70M764.90 298.44H1728.70M764.90 319.84H1728.70M764.90 324.26H1728.70M764.90 345.66H1728.70M764.90 350.08H1728.70M764.90 371.48H1728.70M764.90 375.90H1728.70M764.90 397.30H1728.70M764.90 401.72H1728.70M764.90 423.12H1728.70M764.90 427.54H1728.70M764.90 448.94H1728.70M764.90 453.36H1728.70M764.90 474.76H1728.70M764.90 479.18H1728.70M764.90 500.58H1728.70M764.90 505.00H1728.70M764.90 526.40H1728.70M764.90 530.82H1728.70M764.90 552.22H1728.70M764.90 556.64H1728.70M764.90 578.04H1728.70M764.90 582.46H1728.70M764.90 603.86H1728.70M764.90 608.28H1728.70M764.90 629.68H1728.70M764.90 634.10H1728.70M764.90 655.50H1728.70M764.90 659.92H1728.70M764.90 681.32H1728.70M764.90 685.74H1728.70M764.90 707.14H1728.70M764.90 711.56H1728.70M764.90 732.96H1728.70M764.90 737.38H1728.70M764.90 758.78H1728.70M764.90 763.20H1728.70M764.90 784.60H1728.70M764.90 789.02H1728.70M764.90 810.42H1728.70M764.90 814.84H1728.70M764.90 836.24H1728.70M764.90 840.66H1728.70M764.90 862.06H1728.70M764.90 866.48H1728.70M764.90 887.88H1728.70M764.90 892.30H1728.70M764.90 913.70H1728.70M764.90 918.12H1728.70M764.90 939.52H1728.70M764.90 943.94H1728.70M764.90 965.34H1728.70M764.90 969.76H1728.70M764.90 991.16H1728.70M764.90 995.58H1728.70M764.90 1016.98H1728.70M764.90 1021.40H1728.70M764.90 1042.80H1728.70M764.90 1047.22H1728.70M764.90 1068.62H1728.70M764.90 1073.04H1728.70M764.90 1094.44H1728.70M764.90 1098.86H1728.70M764.90 1120.26H1728.70M764.90 1124.68H1728.70M764.90 1146.08H1728.70M764.90 1150.50H1728.70M764.90 1171.90H1728.70M764.90 1176.32H1728.70M764.90 1197.72H1728.70M764.90 1202.14H1728.70M764.90 1223.54H1728.70M764.90 1227.96H1728.70M764.90 1249.36H1728.70M764.90 1253.78H1728.70M764.90 1275.18H1728.70M764.90 1279.60H1728.70M764.90 1301.00H1728.70M764.90 1305.42H1728.70M764.90 1326.82H1728.70M764.90 1331.24H1728.70M764.90 1352.64H1728.70M764.90 1357.06H1728.70M764.90 1378.46H1728.70M764.90 1382.88H1728.70M764.90 1404.28H1728.70M764.90 1408.70H1728.70M764.90 1430.10H1728.70M764.90 1434.52H1728.70M764.90 1455.92H1728.70M764.90 1460.34H1728.70M764.90 1481.74H1728.70" fill="none" stroke="#000" stroke-opacity="0.72" stroke-width="1.6"/>
<path d="M764.90 117.70V139.10M766.96 117.70V139.10M770.51 117.70V139.10M801.75 117.70V139.10M812.88 117.70V139.10M830.67 117.70V139.10M839.64 117.70V139.10M844.58 117.70V139.10M853.71 117.70V139.10M857.42 117.70V139.10M1483.56 117.70V139.10M1487.43 117.70V139.10M1488.20 117.70V139.10M1503.98 117.70V139.10M1508.32 117.70V139.10M1515.28 117.70V139.10M1523.79 117.70V139.10M1534.31 117.70V139.10M1570.92 117.70V139.10M1728.70 117.70V139.10M764.90 143.52V164.92M769.28 143.52V164.92M771.60 143.52V164.92M804.07 143.52V164.92M807.16 143.52V164.92M818.76 143.52V164.92M952.52 143.52V164.92M955.61 143.52V164.92M959.47 143.52V164.92M963.80 143.52V164.92M1557.32 143.52V164.92M1559.17 143.52V164.92M1561.18 143.52V164.92M1578.96 143.52V164.92M1580.82 143.52V164.92M1589.48 143.52V164.92M1592.11 143.52V164.92M1617.62 143.52V164.92M1631.85 143.52V164.92M1728.70 143.52V164.92M764.90 169.34V190.74M772.06 169.34V190.74M773.92 169.34V190.74M818.30 169.34V190.74M840.87 169.34V190.74M857.11 169.34V190.74M860.51 169.34V190.74M869.48 169.34V190.74M871.64 169.34V190.74M876.44 169.34V190.74M1454.47 169.34V190.74M1454.93 169.34V190.74M1455.09 169.34V190.74M1464.68 169.34V190.74M1512.96 169.34V190.74M1513.42 169.34V190.74M1520.39 169.34V190.74M1523.79 169.34V190.74M1541.12 169.34V190.74M1728.70 169.34V190.74M764.90 195.16V216.56M768.04 195.16V216.56M773.61 195.16V216.56M818.30 195.16V216.56M824.95 195.16V216.56M837.32 195.16V216.56M839.33 195.16V216.56M874.89 195.16V216.56M879.84 195.16V216.56M883.70 195.16V216.56M1444.56 195.16V216.56M1444.72 195.16V216.56M1444.87 195.16V216.56M1463.44 195.16V216.56M1540.04 195.16V216.56M1541.12 195.16V216.56M1551.64 195.16V216.56M1571.23 195.16V216.56M1587.47 195.16V216.56M1728.70 195.16V216.56M764.90 220.98V242.38M766.19 220.98V242.38M772.06 220.98V242.38M823.09 220.98V242.38M848.60 220.98V242.38M884.94 220.98V242.38M887.11 220.98V242.38M890.66 220.98V242.38M895.77 220.98V242.38M899.94 220.98V242.38M1456.02 220.98V242.38M1456.32 220.98V242.38M1456.48 220.98V242.38M1463.44 220.98V242.38M1465.76 220.98V242.38M1472.42 220.98V242.38M1479.23 220.98V242.38M1482.79 220.98V242.38M1690.30 220.98V242.38M1728.70 220.98V242.38M764.90 246.80V268.20M766.49 246.80V268.20M770.21 246.80V268.20M786.29 246.80V268.20M821.85 246.80V268.20M844.58 246.80V268.20M860.51 246.80V268.20M866.39 246.80V268.20M872.88 246.80V268.20M875.66 246.80V268.20M1426.62 246.80V268.20M1427.23 246.80V268.20M1427.85 246.80V268.20M1440.54 246.80V268.20M1441.78 246.80V268.20M1449.21 246.80V268.20M1474.27 246.80V268.20M1478.14 246.80V268.20M1632.31 246.80V268.20M1728.70 246.80V268.20M764.90 272.62V294.02M767.42 272.62V294.02M775.77 272.62V294.02M813.81 272.62V294.02M885.56 272.62V294.02M917.41 272.62V294.02M924.37 272.62V294.02M929.32 272.62V294.02M971.54 272.62V294.02M973.70 272.62V294.02M1448.74 272.62V294.02M1449.21 272.62V294.02M1449.83 272.62V294.02M1460.04 272.62V294.02M1475.82 272.62V294.02M1530.75 272.62V294.02M1543.13 272.62V294.02M1546.69 272.62V294.02M1610.66 272.62V294.02M1728.70 272.62V294.02M764.90 298.44V319.84M766.19 298.44V319.84M768.50 298.44V319.84M802.06 298.44V319.84M809.17 298.44V319.84M819.53 298.44V319.84M821.08 298.44V319.84M822.63 298.44V319.84M824.64 298.44V319.84M826.80 298.44V319.84M1587.47 298.44V319.84M1587.78 298.44V319.84M1588.09 298.44V319.84M1603.24 298.44V319.84M1619.17 298.44V319.84M1620.25 298.44V319.84M1624.58 298.44V319.84M1626.90 298.44V319.84M1631.85 298.44V319.84M1728.70 298.44V319.84M764.90 324.26V345.66M768.04 324.26V345.66M770.51 324.26V345.66M792.01 324.26V345.66M803.76 324.26V345.66M815.67 324.26V345.66M816.44 324.26V345.66M818.76 324.26V345.66M821.08 324.26V345.66M822.16 324.26V345.66M1617.31 324.26V345.66M1617.47 324.26V345.66M1617.62 324.26V345.66M1665.56 324.26V345.66M1674.06 324.26V345.66M1676.38 324.26V345.66M1680.71 324.26V345.66M1684.11 324.26V345.66M1685.66 324.26V345.66M1728.70 324.26V345.66M764.90 350.08V371.48M766.19 350.08V371.48M768.50 350.08V371.48M785.98 350.08V371.48M792.94 350.08V371.48M800.20 350.08V371.48M801.75 350.08V371.48M803.30 350.08V371.48M804.84 350.08V371.48M806.39 350.08V371.48M1596.28 350.08V371.48M1596.59 350.08V371.48M1596.90 350.08V371.48M1600.92 350.08V371.48M1606.80 350.08V371.48M1607.57 350.08V371.48M1624.89 350.08V371.48M1625.35 350.08V371.48M1647.00 350.08V371.48M1728.70 350.08V371.48M764.90 375.90V397.30M768.04 375.90V397.30M769.59 375.90V397.30M818.30 375.90V397.30M832.21 375.90V397.30M874.43 375.90V397.30M875.20 375.90V397.30M876.28 375.90V397.30M877.52 375.90V397.30M878.76 375.90V397.30M1625.04 375.90V397.30M1625.35 375.90V397.30M1625.66 375.90V397.30M1633.39 375.90V397.30M1638.81 375.90V397.30M1640.04 375.90V397.30M1642.67 375.90V397.30M1644.68 375.90V397.30M1648.24 375.90V397.30M1728.70 375.90V397.30M764.90 401.72V423.12M769.59 401.72V423.12M771.60 401.72V423.12M816.90 401.72V423.12M833.91 401.72V423.12M876.28 401.72V423.12M877.21 401.72V423.12M878.29 401.72V423.12M879.38 401.72V423.12M883.70 401.72V423.12M1638.96 401.72V423.12M1639.27 401.72V423.12M1639.58 401.72V423.12M1648.08 401.72V423.12M1653.19 401.72V423.12M1654.73 401.72V423.12M1657.83 401.72V423.12M1660.15 401.72V423.12M1663.24 401.72V423.12M1728.70 401.72V423.12M764.90 427.54V448.94M771.60 427.54V448.94M773.61 427.54V448.94M841.49 427.54V448.94M857.42 427.54V448.94M899.94 427.54V448.94M901.02 427.54V448.94M902.57 427.54V448.94M904.58 427.54V448.94M908.45 427.54V448.94M1647.77 427.54V448.94M1648.08 427.54V448.94M1648.39 427.54V448.94M1660.45 427.54V448.94M1666.64 427.54V448.94M1667.41 427.54V448.94M1670.51 427.54V448.94M1672.52 427.54V448.94M1675.14 427.54V448.94M1728.70 427.54V448.94M764.90 453.36V474.76M772.06 453.36V474.76M775.46 453.36V474.76M857.42 453.36V474.76M872.88 453.36V474.76M925.15 453.36V474.76M926.69 453.36V474.76M927.77 453.36V474.76M930.87 453.36V474.76M933.19 453.36V474.76M1657.05 453.36V474.76M1657.36 453.36V474.76M1657.67 453.36V474.76M1666.79 453.36V474.76M1670.97 453.36V474.76M1671.43 453.36V474.76M1679.78 453.36V474.76M1681.02 453.36V474.76M1683.34 453.36V474.76M1728.70 453.36V474.76M764.90 479.18V500.58M775.15 479.18V500.58M775.77 479.18V500.58M845.36 479.18V500.58M864.38 479.18V500.58M935.51 479.18V500.58M936.28 479.18V500.58M937.05 479.18V500.58M944.32 479.18V500.58M945.56 479.18V500.58M1667.41 479.18V500.58M1667.72 479.18V500.58M1668.03 479.18V500.58M1676.38 479.18V500.58M1683.34 479.18V500.58M1683.80 479.18V500.58M1686.43 479.18V500.58M1692.15 479.18V500.58M1694.63 479.18V500.58M1728.70 479.18V500.58M764.90 505.00V526.40M767.73 505.00V526.40M770.05 505.00V526.40M814.43 505.00V526.40M830.36 505.00V526.40M879.84 505.00V526.40M880.61 505.00V526.40M882.16 505.00V526.40M884.94 505.00V526.40M899.94 505.00V526.40M1592.57 505.00V526.40M1592.88 505.00V526.40M1593.19 505.00V526.40M1601.69 505.00V526.40M1605.25 505.00V526.40M1605.56 505.00V526.40M1615.77 505.00V526.40M1617.62 505.00V526.40M1619.94 505.00V526.40M1728.70 505.00V526.40M764.90 530.82V552.22M770.05 530.82V552.22M770.51 530.82V552.22M824.64 530.82V552.22M841.18 530.82V552.22M880.30 530.82V552.22M881.39 530.82V552.22M882.93 530.82V552.22M887.11 530.82V552.22M889.12 530.82V552.22M1582.06 530.82V552.22M1582.37 530.82V552.22M1582.52 530.82V552.22M1594.43 530.82V552.22M1602.93 530.82V552.22M1603.40 530.82V552.22M1612.67 530.82V552.22M1617.62 530.82V552.22M1631.85 530.82V552.22M1728.70 530.82V552.22M764.90 556.64V578.04M773.92 556.64V578.04M777.01 556.64V578.04M836.08 556.64V578.04M875.20 556.64V578.04M933.19 556.64V578.04M934.73 556.64V578.04M936.28 556.64V578.04M937.83 556.64V578.04M939.68 556.64V578.04M1578.96 556.64V578.04M1579.74 556.64V578.04M1580.20 556.64V578.04M1585.15 556.64V578.04M1588.24 556.64V578.04M1590.56 556.64V578.04M1662.46 556.64V578.04M1663.24 556.64V578.04M1685.66 556.64V578.04M1728.70 556.64V578.04M764.90 582.46V603.86M770.05 582.46V603.86M773.14 582.46V603.86M842.73 582.46V603.86M869.79 582.46V603.86M929.63 582.46V603.86M930.87 582.46V603.86M931.95 582.46V603.86M933.19 582.46V603.86M935.04 582.46V603.86M1547.26 582.46V603.86M1547.57 582.46V603.86M1547.73 582.46V603.86M1609.12 582.46V603.86M1613.76 582.46V603.86M1614.22 582.46V603.86M1659.06 582.46V603.86M1660.15 582.46V603.86M1678.24 582.46V603.86M1728.70 582.46V603.86M764.90 608.28V629.68M777.10 608.28V629.68M780.98 608.28V629.68M896.39 608.28V629.68M935.25 608.28V629.68M1031.03 608.28V629.68M1035.89 608.28V629.68M1039.39 608.28V629.68M1046.96 608.28V629.68M1048.52 608.28V629.68M1628.45 608.28V629.68M1629.22 608.28V629.68M1629.99 608.28V629.68M1640.04 608.28V629.68M1642.36 608.28V629.68M1648.24 608.28V629.68M1655.04 608.28V629.68M1665.25 608.28V629.68M1683.80 608.28V629.68M1728.70 608.28V629.68M764.90 634.10V655.50M778.85 634.10V655.50M784.29 634.10V655.50M928.06 634.10V655.50M964.39 634.10V655.50M1075.14 634.10V655.50M1076.69 634.10V655.50M1079.02 634.10V655.50M1082.13 634.10V655.50M1084.07 634.10V655.50M1667.24 634.10V655.50M1668.69 634.10V655.50M1670.15 634.10V655.50M1675.98 634.10V655.50M1677.44 634.10V655.50M1685.16 634.10V655.50M1689.82 634.10V655.50M1692.01 634.10V655.50M1694.19 634.10V655.50M1728.70 634.10V655.50M764.90 659.92V681.32M766.80 659.92V681.32M768.74 659.92V681.32M783.31 659.92V681.32M789.14 659.92V681.32M794.97 659.92V681.32M800.22 659.92V681.32M804.69 659.92V681.32M953.90 659.92V681.32M958.56 659.92V681.32M1644.65 659.92V681.32M1646.11 659.92V681.32M1649.02 659.92V681.32M1658.06 659.92V681.32M1658.49 659.92V681.32M1707.60 659.92V681.32M1708.76 659.92V681.32M1710.95 659.92V681.32M1713.86 659.92V681.32M1728.70 659.92V681.32M764.90 685.74V707.14M767.38 685.74V707.14M768.74 685.74V707.14M794.97 685.74V707.14M809.93 685.74V707.14M834.22 685.74V707.14M837.72 685.74V707.14M841.21 685.74V707.14M948.07 685.74V707.14M950.40 685.74V707.14M1571.51 685.74V707.14M1573.25 685.74V707.14M1575.44 685.74V707.14M1622.79 685.74V707.14M1651.65 685.74V707.14M1656.31 685.74V707.14M1667.67 685.74V707.14M1682.24 685.74V707.14M1685.16 685.74V707.14M1728.70 685.74V707.14M764.90 711.56V732.96M788.17 711.56V732.96M791.47 711.56V732.96M1016.85 711.56V732.96M1020.35 711.56V732.96M1025.20 711.56V732.96M1029.09 711.56V732.96M1032.00 711.56V732.96M1034.92 711.56V732.96M1036.86 711.56V732.96M1507.68 711.56V732.96M1509.14 711.56V732.96M1509.87 711.56V732.96M1514.24 711.56V732.96M1516.43 711.56V732.96M1518.61 711.56V732.96M1527.36 711.56V732.96M1702.64 711.56V732.96M1704.39 711.56V732.96M1728.70 711.56V732.96M764.90 737.38V758.78M791.47 737.38V758.78M798.47 737.38V758.78M1055.71 737.38V758.78M1067.95 737.38V758.78M1075.14 737.38V758.78M1084.07 737.38V758.78M1086.40 737.38V758.78M1088.35 737.38V758.78M1090.68 737.38V758.78M1610.41 737.38V758.78M1611.87 737.38V758.78M1614.05 737.38V758.78M1649.75 737.38V758.78M1651.21 737.38V758.78M1652.67 737.38V758.78M1662.14 737.38V758.78M1688.66 737.38V758.78M1689.09 737.38V758.78M1728.70 737.38V758.78M764.90 763.20V784.60M779.43 763.20V784.60M784.29 763.20V784.60M933.30 763.20V784.60M938.74 763.20V784.60M941.08 763.20V784.60M942.63 763.20V784.60M944.18 763.20V784.60M951.96 763.20V784.60M954.29 763.20V784.60M1689.82 763.20V784.60M1691.28 763.20V784.60M1692.73 763.20V784.60M1701.19 763.20V784.60M1702.21 763.20V784.60M1705.12 763.20V784.60M1707.31 763.20V784.60M1709.49 763.20V784.60M1713.13 763.20V784.60M1728.70 763.20V784.60M764.90 789.02V810.42M790.11 789.02V810.42M797.89 789.02V810.42M1050.46 789.02V810.42M1052.40 789.02V810.42M1056.87 789.02V810.42M1069.89 789.02V810.42M1071.83 789.02V810.42M1074.36 789.02V810.42M1076.69 789.02V810.42M1694.92 789.02V810.42M1696.38 789.02V810.42M1697.11 789.02V810.42M1706.14 789.02V810.42M1708.03 789.02V810.42M1710.22 789.02V810.42M1712.41 789.02V810.42M1714.59 789.02V810.42M1718.96 789.02V810.42M1728.70 789.02V810.42M764.90 814.84V836.24M765.88 814.84V836.24M768.50 814.84V836.24M787.83 814.84V836.24M789.69 814.84V836.24M792.78 814.84V836.24M793.25 814.84V836.24M800.20 814.84V836.24M805.62 814.84V836.24M841.65 814.84V836.24M1700.81 814.84V836.24M1703.44 814.84V836.24M1706.07 814.84V836.24M1712.72 814.84V836.24M1714.27 814.84V836.24M1716.28 814.84V836.24M1717.36 814.84V836.24M1718.91 814.84V836.24M1720.45 814.84V836.24M1728.70 814.84V836.24M764.90 840.66V862.06M765.88 840.66V862.06M766.96 840.66V862.06M784.43 840.66V862.06M787.06 840.66V862.06M789.38 840.66V862.06M790.15 840.66V862.06M795.26 840.66V862.06M800.98 840.66V862.06M841.65 840.66V862.06M1672.52 840.66V862.06M1674.06 840.66V862.06M1674.84 840.66V862.06M1707.93 840.66V862.06M1708.85 840.66V862.06M1712.72 840.66V862.06M1713.80 840.66V862.06M1714.73 840.66V862.06M1719.37 840.66V862.06M1728.70 840.66V862.06M764.90 866.48V887.88M765.88 866.48V887.88M766.96 866.48V887.88M777.01 866.48V887.88M779.33 866.48V887.88M780.88 866.48V887.88M781.65 866.48V887.88M783.97 866.48V887.88M786.60 866.48V887.88M850.46 866.48V887.88M1676.07 866.48V887.88M1677.93 866.48V887.88M1678.70 866.48V887.88M1686.74 866.48V887.88M1687.98 866.48V887.88M1689.99 866.48V887.88M1691.07 866.48V887.88M1692.62 866.48V887.88M1693.39 866.48V887.88M1728.70 866.48V887.88M764.90 892.30V913.70M765.88 892.30V913.70M766.96 892.30V913.70M777.01 892.30V913.70M779.33 892.30V913.70M781.34 892.30V913.70M781.65 892.30V913.70M786.29 892.30V913.70M797.11 892.30V913.70M969.53 892.30V913.70M1695.71 892.30V913.70M1697.26 892.30V913.70M1698.80 892.30V913.70M1704.22 892.30V913.70M1704.99 892.30V913.70M1709.63 892.30V913.70M1710.71 892.30V913.70M1711.17 892.30V913.70M1711.95 892.30V913.70M1728.70 892.30V913.70M764.90 918.12V939.52M767.73 918.12V939.52M769.59 918.12V939.52M795.26 918.12V939.52M797.88 918.12V939.52M801.44 918.12V939.52M804.07 918.12V939.52M806.39 918.12V939.52M813.35 918.12V939.52M816.44 918.12V939.52M1690.30 918.12V939.52M1691.84 918.12V939.52M1692.62 918.12V939.52M1700.81 918.12V939.52M1701.43 918.12V939.52M1710.09 918.12V939.52M1711.95 918.12V939.52M1715.04 918.12V939.52M1718.91 918.12V939.52M1728.70 918.12V939.52M764.90 943.94V965.34M765.41 943.94V965.34M766.96 943.94V965.34M778.87 943.94V965.34M780.88 943.94V965.34M782.89 943.94V965.34M784.43 943.94V965.34M786.60 943.94V965.34M789.38 943.94V965.34M792.78 943.94V965.34M1699.58 943.94V965.34M1700.81 943.94V965.34M1701.43 943.94V965.34M1706.53 943.94V965.34M1708.08 943.94V965.34M1713.49 943.94V965.34M1715.04 943.94V965.34M1716.28 943.94V965.34M1718.91 943.94V965.34M1728.70 943.94V965.34M764.90 969.76V991.16M767.73 969.76V991.16M768.97 969.76V991.16M784.43 969.76V991.16M787.06 969.76V991.16M793.25 969.76V991.16M795.26 969.76V991.16M797.88 969.76V991.16M801.44 969.76V991.16M804.07 969.76V991.16M1676.69 969.76V991.16M1677.93 969.76V991.16M1678.24 969.76V991.16M1702.67 969.76V991.16M1703.91 969.76V991.16M1705.76 969.76V991.16M1708.08 969.76V991.16M1710.40 969.76V991.16M1718.91 969.76V991.16M1728.70 969.76V991.16M764.90 995.58V1016.98M765.88 995.58V1016.98M766.96 995.58V1016.98M778.87 995.58V1016.98M780.41 995.58V1016.98M781.96 995.58V1016.98M783.97 995.58V1016.98M785.98 995.58V1016.98M788.61 995.58V1016.98M791.70 995.58V1016.98M1710.09 995.58V1016.98M1711.17 995.58V1016.98M1711.64 995.58V1016.98M1718.44 995.58V1016.98M1719.68 995.58V1016.98M1722.00 995.58V1016.98M1723.08 995.58V1016.98M1724.32 995.58V1016.98M1725.86 995.58V1016.98M1728.70 995.58V1016.98M764.90 1021.40V1042.80M765.88 1021.40V1042.80M766.96 1021.40V1042.80M778.87 1021.40V1042.80M780.41 1021.40V1042.80M781.96 1021.40V1042.80M783.50 1021.40V1042.80M785.51 1021.40V1042.80M787.52 1021.40V1042.80M789.69 1021.40V1042.80M1711.95 1021.40V1042.80M1712.72 1021.40V1042.80M1713.18 1021.40V1042.80M1718.44 1021.40V1042.80M1719.99 1021.40V1042.80M1721.53 1021.40V1042.80M1722.77 1021.40V1042.80M1724.32 1021.40V1042.80M1725.86 1021.40V1042.80M1728.70 1021.40V1042.80M764.90 1047.22V1068.62M765.88 1047.22V1068.62M766.96 1047.22V1068.62M777.01 1047.22V1068.62M778.25 1047.22V1068.62M779.79 1047.22V1068.62M781.34 1047.22V1068.62M782.89 1047.22V1068.62M785.51 1047.22V1068.62M787.83 1047.22V1068.62M1711.95 1047.22V1068.62M1712.72 1047.22V1068.62M1713.49 1047.22V1068.62M1720.45 1047.22V1068.62M1721.22 1047.22V1068.62M1723.54 1047.22V1068.62M1724.63 1047.22V1068.62M1725.86 1047.22V1068.62M1727.41 1047.22V1068.62M1728.70 1047.22V1068.62M764.90 1073.04V1094.44M765.88 1073.04V1094.44M766.96 1073.04V1094.44M777.01 1073.04V1094.44M778.56 1073.04V1094.44M780.10 1073.04V1094.44M781.65 1073.04V1094.44M783.97 1073.04V1094.44M787.52 1073.04V1094.44M790.93 1073.04V1094.44M1710.09 1073.04V1094.44M1711.17 1073.04V1094.44M1711.95 1073.04V1094.44M1716.90 1073.04V1094.44M1718.13 1073.04V1094.44M1720.45 1073.04V1094.44M1722.00 1073.04V1094.44M1723.54 1073.04V1094.44M1725.09 1073.04V1094.44M1728.70 1073.04V1094.44M764.90 1098.86V1120.26M765.88 1098.86V1120.26M766.96 1098.86V1120.26M780.41 1098.86V1120.26M781.65 1098.86V1120.26M783.19 1098.86V1120.26M784.74 1098.86V1120.26M787.06 1098.86V1120.26M790.15 1098.86V1120.26M793.25 1098.86V1120.26M1708.08 1098.86V1120.26M1708.85 1098.86V1120.26M1709.63 1098.86V1120.26M1716.59 1098.86V1120.26M1717.82 1098.86V1120.26M1720.45 1098.86V1120.26M1722.00 1098.86V1120.26M1723.54 1098.86V1120.26M1725.09 1098.86V1120.26M1728.70 1098.86V1120.26M764.90 1124.68V1146.08M765.88 1124.68V1146.08M767.73 1124.68V1146.08M778.87 1124.68V1146.08M780.10 1124.68V1146.08M781.65 1124.68V1146.08M782.42 1124.68V1146.08M785.98 1124.68V1146.08M787.83 1124.68V1146.08M791.24 1124.68V1146.08M1706.53 1124.68V1146.08M1708.85 1124.68V1146.08M1711.17 1124.68V1146.08M1718.44 1124.68V1146.08M1719.68 1124.68V1146.08M1723.54 1124.68V1146.08M1725.09 1124.68V1146.08M1726.17 1124.68V1146.08M1727.10 1124.68V1146.08M1728.70 1124.68V1146.08M764.90 1150.50V1171.90M765.88 1150.50V1171.90M766.96 1150.50V1171.90M783.97 1150.50V1171.90M785.51 1150.50V1171.90M787.06 1150.50V1171.90M788.61 1150.50V1171.90M790.93 1150.50V1171.90M793.25 1150.50V1171.90M795.26 1150.50V1171.90M1710.09 1150.50V1171.90M1711.64 1150.50V1171.90M1712.72 1150.50V1171.90M1718.44 1150.50V1171.90M1719.68 1150.50V1171.90M1723.08 1150.50V1171.90M1724.32 1150.50V1171.90M1725.55 1150.50V1171.90M1726.64 1150.50V1171.90M1728.70 1150.50V1171.90M764.90 1176.32V1197.72M765.88 1176.32V1197.72M767.73 1176.32V1197.72M777.32 1176.32V1197.72M778.87 1176.32V1197.72M780.41 1176.32V1197.72M781.96 1176.32V1197.72M783.97 1176.32V1197.72M787.06 1176.32V1197.72M789.69 1176.32V1197.72M1707.00 1176.32V1197.72M1708.08 1176.32V1197.72M1708.54 1176.32V1197.72M1716.59 1176.32V1197.72M1718.13 1176.32V1197.72M1719.99 1176.32V1197.72M1721.22 1176.32V1197.72M1722.77 1176.32V1197.72M1724.32 1176.32V1197.72M1728.70 1176.32V1197.72M764.90 1202.14V1223.54M765.88 1202.14V1223.54M767.73 1202.14V1223.54M782.42 1202.14V1223.54M783.50 1202.14V1223.54M785.05 1202.14V1223.54M786.60 1202.14V1223.54M788.61 1202.14V1223.54M790.93 1202.14V1223.54M792.78 1202.14V1223.54M1703.44 1202.14V1223.54M1705.45 1202.14V1223.54M1706.53 1202.14V1223.54M1713.18 1202.14V1223.54M1713.80 1202.14V1223.54M1716.28 1202.14V1223.54M1718.13 1202.14V1223.54M1720.45 1202.14V1223.54M1722.77 1202.14V1223.54M1728.70 1202.14V1223.54M764.90 1227.96V1249.36M768.04 1227.96V1249.36M768.50 1227.96V1249.36M798.35 1227.96V1249.36M803.61 1227.96V1249.36M817.99 1227.96V1249.36M818.76 1227.96V1249.36M819.53 1227.96V1249.36M820.31 1227.96V1249.36M835.00 1227.96V1249.36M1686.90 1227.96V1249.36M1687.98 1227.96V1249.36M1688.44 1227.96V1249.36M1693.70 1227.96V1249.36M1695.71 1227.96V1249.36M1697.26 1227.96V1249.36M1698.80 1227.96V1249.36M1700.35 1227.96V1249.36M1702.67 1227.96V1249.36M1728.70 1227.96V1249.36M764.90 1253.78V1275.18M768.04 1253.78V1275.18M768.97 1253.78V1275.18M793.25 1253.78V1275.18M798.35 1253.78V1275.18M815.67 1253.78V1275.18M816.90 1253.78V1275.18M817.99 1253.78V1275.18M818.76 1253.78V1275.18M820.31 1253.78V1275.18M1683.34 1253.78V1275.18M1684.11 1253.78V1275.18M1684.42 1253.78V1275.18M1690.30 1253.78V1275.18M1694.94 1253.78V1275.18M1695.71 1253.78V1275.18M1700.35 1253.78V1275.18M1702.67 1253.78V1275.18M1704.99 1253.78V1275.18M1728.70 1253.78V1275.18M764.90 1279.60V1301.00M765.41 1279.60V1301.00M766.19 1279.60V1301.00M775.15 1279.60V1301.00M775.46 1279.60V1301.00M780.41 1279.60V1301.00M781.34 1279.60V1301.00M782.42 1279.60V1301.00M783.19 1279.60V1301.00M787.83 1279.60V1301.00M1700.81 1279.60V1301.00M1701.43 1279.60V1301.00M1701.90 1279.60V1301.00M1706.07 1279.60V1301.00M1709.16 1279.60V1301.00M1710.40 1279.60V1301.00M1712.72 1279.60V1301.00M1713.49 1279.60V1301.00M1714.27 1279.60V1301.00M1728.70 1279.60V1301.00M764.90 1305.42V1326.82M765.41 1305.42V1326.82M766.19 1305.42V1326.82M777.01 1305.42V1326.82M778.25 1305.42V1326.82M785.51 1305.42V1326.82M786.60 1305.42V1326.82M787.83 1305.42V1326.82M788.61 1305.42V1326.82M790.15 1305.42V1326.82M1704.22 1305.42V1326.82M1704.99 1305.42V1326.82M1705.45 1305.42V1326.82M1707.62 1305.42V1326.82M1711.17 1305.42V1326.82M1712.72 1305.42V1326.82M1713.80 1305.42V1326.82M1714.73 1305.42V1326.82M1715.81 1305.42V1326.82M1728.70 1305.42V1326.82M764.90 1331.24V1352.64M766.03 1331.24V1352.64M841.46 1331.24V1352.64M876.54 1331.24V1352.64M879.18 1331.24V1352.64M889.17 1331.24V1352.64M892.00 1331.24V1352.64M895.40 1331.24V1352.64M898.60 1331.24V1352.64M901.05 1331.24V1352.64M1259.52 1331.24V1352.64M1260.09 1331.24V1352.64M1260.28 1331.24V1352.64M1267.06 1331.24V1352.64M1267.63 1331.24V1352.64M1688.67 1331.24V1352.64M1697.09 1331.24V1352.64M1698.62 1331.24V1352.64M1718.53 1331.24V1352.64M1728.70 1331.24V1352.64M764.90 1357.06V1378.46M820.34 1357.06V1378.46M832.22 1357.06V1378.46M1357.20 1357.06V1378.46M1396.42 1357.06V1378.46M1427.76 1357.06V1378.46M1445.56 1357.06V1378.46M1467.00 1357.06V1378.46M1468.53 1357.06V1378.46M1470.44 1357.06V1378.46M1643.49 1357.06V1378.46M1644.64 1357.06V1378.46M1645.02 1357.06V1378.46M1648.85 1357.06V1378.46M1650.77 1357.06V1378.46M1652.30 1357.06V1378.46M1653.64 1357.06V1378.46M1655.55 1357.06V1378.46M1656.89 1357.06V1378.46M1728.70 1357.06V1378.46M764.90 1382.88V1404.28M843.35 1382.88V1404.28M859.00 1382.88V1404.28M1461.26 1382.88V1404.28M1486.52 1382.88V1404.28M1493.80 1382.88V1404.28M1525.96 1382.88V1404.28M1527.30 1382.88V1404.28M1534.00 1382.88V1404.28M1536.29 1382.88V1404.28M1623.58 1382.88V1404.28M1624.92 1382.88V1404.28M1626.84 1382.88V1404.28M1631.62 1382.88V1404.28M1648.47 1382.88V1404.28M1650.77 1382.88V1404.28M1656.13 1382.88V1404.28M1670.87 1382.88V1404.28M1671.44 1382.88V1404.28M1728.70 1382.88V1404.28M764.90 1408.70V1430.10M765.66 1408.70V1430.10M765.85 1408.70V1430.10M776.03 1408.70V1430.10M777.35 1408.70V1430.10M777.91 1408.70V1430.10M778.48 1408.70V1430.10M1402.84 1408.70V1430.10M1404.34 1408.70V1430.10M1408.04 1408.70V1430.10M1715.47 1408.70V1430.10M1716.23 1408.70V1430.10M1716.81 1408.70V1430.10M1721.21 1408.70V1430.10M1722.55 1408.70V1430.10M1723.89 1408.70V1430.10M1725.42 1408.70V1430.10M1726.95 1408.70V1430.10M1728.29 1408.70V1430.10M1728.70 1408.70V1430.10M764.90 1434.52V1455.92M774.14 1434.52V1455.92M775.46 1434.52V1455.92M844.86 1434.52V1455.92M846.37 1434.52V1455.92M854.29 1434.52V1455.92M855.79 1434.52V1455.92M870.31 1434.52V1455.92M871.63 1434.52V1455.92M872.20 1434.52V1455.92M928.21 1434.52V1455.92M988.55 1434.52V1455.92M1693.84 1434.52V1455.92M1698.62 1434.52V1455.92M1700.15 1434.52V1455.92M1702.07 1434.52V1455.92M1703.41 1434.52V1455.92M1708.19 1434.52V1455.92M1708.58 1434.52V1455.92M1728.70 1434.52V1455.92M764.90 1460.34V1481.74M765.66 1460.34V1481.74M765.85 1460.34V1481.74M775.09 1460.34V1481.74M776.59 1460.34V1481.74M777.91 1460.34V1481.74M778.86 1460.34V1481.74M780.74 1460.34V1481.74M782.25 1460.34V1481.74M784.14 1460.34V1481.74M848.25 1460.34V1481.74M849.57 1460.34V1481.74M851.46 1460.34V1481.74M1710.11 1460.34V1481.74M1711.64 1460.34V1481.74M1712.98 1460.34V1481.74M1721.98 1460.34V1481.74M1723.12 1460.34V1481.74M1724.46 1460.34V1481.74M1728.70 1460.34V1481.74" fill="none" stroke="#151515" stroke-width="1.5" stroke-linecap="square"/>
<g font-size="24.7" font-weight="bold" font-style="italic" text-anchor="end" fill="#000">
<text x="727.6" y="137.8">S3<tspan fill="#6a6a6a">_</tspan>T2<tspan fill="#6a6a6a">_</tspan>NAPH</text>
<text x="727.6" y="163.6">S1<tspan fill="#6a6a6a">_</tspan>T2<tspan fill="#6a6a6a">_</tspan>NAPH</text>
<text x="727.6" y="189.4">S2<tspan fill="#6a6a6a">_</tspan>T1<tspan fill="#6a6a6a">_</tspan>PAR</text>
<text x="727.6" y="215.3">S1<tspan fill="#6a6a6a">_</tspan>T2<tspan fill="#6a6a6a">_</tspan>PAR</text>
<text x="727.6" y="241.1">S3<tspan fill="#6a6a6a">_</tspan>T3<tspan fill="#6a6a6a">_</tspan>NAPH</text>
<text x="727.6" y="266.9">S2<tspan fill="#6a6a6a">_</tspan>T3<tspan fill="#6a6a6a">_</tspan>NAPH</text>
<text x="727.6" y="292.7">S1<tspan fill="#6a6a6a">_</tspan>T3<tspan fill="#6a6a6a">_</tspan>NAPH</text>
<text x="727.6" y="318.5">S1<tspan fill="#6a6a6a">_</tspan>T1<tspan fill="#6a6a6a">_</tspan>PAR</text>
<text x="727.6" y="344.4">S3<tspan fill="#6a6a6a">_</tspan>T3<tspan fill="#6a6a6a">_</tspan>BENZ</text>
<text x="727.6" y="370.2">S3<tspan fill="#6a6a6a">_</tspan>T1<tspan fill="#6a6a6a">_</tspan>BENZ</text>
<text x="727.6" y="396.0">S2<tspan fill="#6a6a6a">_</tspan>T2<tspan fill="#6a6a6a">_</tspan>OIL</text>
<text x="727.6" y="421.8">S2<tspan fill="#6a6a6a">_</tspan>T1<tspan fill="#6a6a6a">_</tspan>OIL</text>
<text x="727.6" y="447.6">S1<tspan fill="#6a6a6a">_</tspan>T1<tspan fill="#6a6a6a">_</tspan>OIL</text>
<text x="727.6" y="473.5">S3<tspan fill="#6a6a6a">_</tspan>T1<tspan fill="#6a6a6a">_</tspan>OIL</text>
<text x="727.6" y="499.3">S1<tspan fill="#6a6a6a">_</tspan>T2<tspan fill="#6a6a6a">_</tspan>OIL</text>
<text x="727.6" y="525.1">S2<tspan fill="#6a6a6a">_</tspan>T2<tspan fill="#6a6a6a">_</tspan>PAR</text>
<text x="727.6" y="550.9">S3<tspan fill="#6a6a6a">_</tspan>T2<tspan fill="#6a6a6a">_</tspan>OIL</text>
<text x="727.6" y="576.7">S2<tspan fill="#6a6a6a">_</tspan>T3<tspan fill="#6a6a6a">_</tspan>BENZ</text>
<text x="727.6" y="602.6">S2<tspan fill="#6a6a6a">_</tspan>T1<tspan fill="#6a6a6a">_</tspan>BENZ</text>
<text x="727.6" y="628.4">S2<tspan fill="#6a6a6a">_</tspan>T2<tspan fill="#6a6a6a">_</tspan>NAPH</text>
<text x="727.6" y="654.2">S2<tspan fill="#6a6a6a">_</tspan>T1<tspan fill="#6a6a6a">_</tspan>NAPH</text>
<text x="727.6" y="680.0">S1<tspan fill="#6a6a6a">_</tspan>T3<tspan fill="#6a6a6a">_</tspan>PYR</text>
<text x="727.6" y="705.8">S1<tspan fill="#6a6a6a">_</tspan>T2<tspan fill="#6a6a6a">_</tspan>BENZ</text>
<text x="727.6" y="731.7">S3<tspan fill="#6a6a6a">_</tspan>T1<tspan fill="#6a6a6a">_</tspan>NAPH</text>
<text x="727.6" y="757.5">S2<tspan fill="#6a6a6a">_</tspan>T2<tspan fill="#6a6a6a">_</tspan>BENZ</text>
<text x="727.6" y="783.3">S3<tspan fill="#6a6a6a">_</tspan>T1<tspan fill="#6a6a6a">_</tspan>PYR</text>
<text x="727.6" y="809.1">S1<tspan fill="#6a6a6a">_</tspan>T1<tspan fill="#6a6a6a">_</tspan>NAPH</text>
<text x="727.6" y="834.9">S1<tspan fill="#6a6a6a">_</tspan>T2<tspan fill="#6a6a6a">_</tspan>PYR</text>
<text x="727.6" y="860.8">S3<tspan fill="#6a6a6a">_</tspan>T1<tspan fill="#6a6a6a">_</tspan>PHE</text>
<text x="727.6" y="886.6">S2<tspan fill="#6a6a6a">_</tspan>T3<tspan fill="#6a6a6a">_</tspan>PAR</text>
<text x="727.6" y="912.4">S3<tspan fill="#6a6a6a">_</tspan>T3<tspan fill="#6a6a6a">_</tspan>PHE</text>
<text x="727.6" y="938.2">S2<tspan fill="#6a6a6a">_</tspan>T3<tspan fill="#6a6a6a">_</tspan>PYR</text>
<text x="727.6" y="964.0">S1<tspan fill="#6a6a6a">_</tspan>T1<tspan fill="#6a6a6a">_</tspan>PHE</text>
<text x="727.6" y="989.9">S1<tspan fill="#6a6a6a">_</tspan>T1<tspan fill="#6a6a6a">_</tspan>BENZ</text>
<text x="727.6" y="1015.7">S2<tspan fill="#6a6a6a">_</tspan>T2<tspan fill="#6a6a6a">_</tspan>PYR</text>
<text x="727.6" y="1041.5">S3<tspan fill="#6a6a6a">_</tspan>T3<tspan fill="#6a6a6a">_</tspan>PAR</text>
<text x="727.6" y="1067.3">S2<tspan fill="#6a6a6a">_</tspan>T2<tspan fill="#6a6a6a">_</tspan>PHE</text>
<text x="727.6" y="1093.1">S1<tspan fill="#6a6a6a">_</tspan>T1<tspan fill="#6a6a6a">_</tspan>PYR</text>
<text x="727.6" y="1119.0">S2<tspan fill="#6a6a6a">_</tspan>T3<tspan fill="#6a6a6a">_</tspan>PHE</text>
<text x="727.6" y="1144.8">S3<tspan fill="#6a6a6a">_</tspan>T2<tspan fill="#6a6a6a">_</tspan>PHE</text>
<text x="727.6" y="1170.6">S3<tspan fill="#6a6a6a">_</tspan>T2<tspan fill="#6a6a6a">_</tspan>PYR</text>
<text x="727.6" y="1196.4">S2<tspan fill="#6a6a6a">_</tspan>T1<tspan fill="#6a6a6a">_</tspan>PHE</text>
<text x="727.6" y="1222.2">S1<tspan fill="#6a6a6a">_</tspan>T3<tspan fill="#6a6a6a">_</tspan>PHE</text>
<text x="727.6" y="1248.1">S3<tspan fill="#6a6a6a">_</tspan>T1<tspan fill="#6a6a6a">_</tspan>PAR</text>
<text x="727.6" y="1273.9">S3<tspan fill="#6a6a6a">_</tspan>T2<tspan fill="#6a6a6a">_</tspan>BENZ</text>
<text x="727.6" y="1299.7">S1<tspan fill="#6a6a6a">_</tspan>T2<tspan fill="#6a6a6a">_</tspan>PHE</text>
<text x="727.6" y="1325.5">S3<tspan fill="#6a6a6a">_</tspan>T2<tspan fill="#6a6a6a">_</tspan>PAR</text>
<text x="727.6" y="1351.3">S2<tspan fill="#6a6a6a">_</tspan>T1<tspan fill="#6a6a6a">_</tspan>PYR</text>
<text x="727.6" y="1377.2">S2<tspan fill="#6a6a6a">_</tspan>T3<tspan fill="#6a6a6a">_</tspan>OIL</text>
<text x="727.6" y="1403.0">S1<tspan fill="#6a6a6a">_</tspan>T3<tspan fill="#6a6a6a">_</tspan>OIL</text>
<text x="727.6" y="1428.8">S1<tspan fill="#6a6a6a">_</tspan>T3<tspan fill="#6a6a6a">_</tspan>PAR</text>
<text x="727.6" y="1454.6">S3<tspan fill="#6a6a6a">_</tspan>T3<tspan fill="#6a6a6a">_</tspan>OIL</text>
<text x="727.6" y="1480.4">S1<tspan fill="#6a6a6a">_</tspan>T3<tspan fill="#6a6a6a">_</tspan>BENZ</text>
</g>
<path d="M755.2 128.4V1471.0" stroke="#8a8a8a" stroke-width="2.2" stroke-dasharray="3.2 5.3"/>
<g stroke="#222" stroke-width="2">
<path d="M743.2 128.4H749.8M753.8 128.4H756.6"/>
<path d="M743.2 154.2H749.8M753.8 154.2H756.6"/>
<path d="M743.2 180.0H749.8M753.8 180.0H756.6"/>
<path d="M743.2 205.9H749.8M753.8 205.9H756.6"/>
<path d="M743.2 231.7H749.8M753.8 231.7H756.6"/>
<path d="M743.2 257.5H749.8M753.8 257.5H756.6"/>
<path d="M743.2 283.3H749.8M753.8 283.3H756.6"/>
<path d="M743.2 309.1H749.8M753.8 309.1H756.6"/>
<path d="M743.2 335.0H749.8M753.8 335.0H756.6"/>
<path d="M743.2 360.8H749.8M753.8 360.8H756.6"/>
<path d="M743.2 386.6H749.8M753.8 386.6H756.6"/>
<path d="M743.2 412.4H749.8M753.8 412.4H756.6"/>
<path d="M743.2 438.2H749.8M753.8 438.2H756.6"/>
<path d="M743.2 464.1H749.8M753.8 464.1H756.6"/>
<path d="M743.2 489.9H749.8M753.8 489.9H756.6"/>
<path d="M743.2 515.7H749.8M753.8 515.7H756.6"/>
<path d="M743.2 541.5H749.8M753.8 541.5H756.6"/>
<path d="M743.2 567.3H749.8M753.8 567.3H756.6"/>
<path d="M743.2 593.2H749.8M753.8 593.2H756.6"/>
<path d="M743.2 619.0H749.8M753.8 619.0H756.6"/>
<path d="M743.2 644.8H749.8M753.8 644.8H756.6"/>
<path d="M743.2 670.6H749.8M753.8 670.6H756.6"/>
<path d="M743.2 696.4H749.8M753.8 696.4H756.6"/>
<path d="M743.2 722.3H749.8M753.8 722.3H756.6"/>
<path d="M743.2 748.1H749.8M753.8 748.1H756.6"/>
<path d="M743.2 773.9H749.8M753.8 773.9H756.6"/>
<path d="M743.2 799.7H749.8M753.8 799.7H756.6"/>
<path d="M743.2 825.5H749.8M753.8 825.5H756.6"/>
<path d="M743.2 851.4H749.8M753.8 851.4H756.6"/>
<path d="M743.2 877.2H749.8M753.8 877.2H756.6"/>
<path d="M743.2 903.0H749.8M753.8 903.0H756.6"/>
<path d="M743.2 928.8H749.8M753.8 928.8H756.6"/>
<path d="M743.2 954.6H749.8M753.8 954.6H756.6"/>
<path d="M743.2 980.5H749.8M753.8 980.5H756.6"/>
<path d="M743.2 1006.3H749.8M753.8 1006.3H756.6"/>
<path d="M743.2 1032.1H749.8M753.8 1032.1H756.6"/>
<path d="M743.2 1057.9H749.8M753.8 1057.9H756.6"/>
<path d="M743.2 1083.7H749.8M753.8 1083.7H756.6"/>
<path d="M743.2 1109.6H749.8M753.8 1109.6H756.6"/>
<path d="M743.2 1135.4H749.8M753.8 1135.4H756.6"/>
<path d="M743.2 1161.2H749.8M753.8 1161.2H756.6"/>
<path d="M743.2 1187.0H749.8M753.8 1187.0H756.6"/>
<path d="M743.2 1212.8H749.8M753.8 1212.8H756.6"/>
<path d="M743.2 1238.7H749.8M753.8 1238.7H756.6"/>
<path d="M743.2 1264.5H749.8M753.8 1264.5H756.6"/>
<path d="M743.2 1290.3H749.8M753.8 1290.3H756.6"/>
<path d="M743.2 1316.1H749.8M753.8 1316.1H756.6"/>
<path d="M743.2 1341.9H749.8M753.8 1341.9H756.6"/>
<path d="M743.2 1367.8H749.8M753.8 1367.8H756.6"/>
<path d="M743.2 1393.6H749.8M753.8 1393.6H756.6"/>
<path d="M743.2 1419.4H749.8M753.8 1419.4H756.6"/>
<path d="M743.2 1445.2H749.8M753.8 1445.2H756.6"/>
<path d="M743.2 1471.0H749.8M753.8 1471.0H756.6"/>
</g>
<path d="M499.8 130.5H369.7V156.2H499.8M499.8 182.0H402.6V207.7H499.8M369.7 143.4H333.5V194.8H402.6M499.8 233.5H397.4V259.2H499.8M397.4 246.3H342.4V284.9H499.8M333.5 169.1H308.1V265.6H342.4M499.8 310.7H409.8V336.4H499.8M409.8 323.5H388.9V362.2H499.8M499.8 387.9H462.3V413.6H499.8M462.3 400.8H456.4V439.4H499.8M456.4 420.1H438.5V465.1H499.8M438.5 442.6H429.0V490.9H499.8M499.8 516.6H430.3V542.3H499.8M429.0 466.7H420.8V529.5H430.3M388.9 342.9H375.1V498.1H420.8M499.8 568.1H418.9V593.8H499.8M375.1 420.5H356.5V580.9H418.9M499.8 619.6H427.5V645.3H499.8M356.5 500.7H325.1V632.4H427.5M308.1 217.4H297.1V566.6H325.1M499.8 671.0H323.2V696.8H499.8M297.1 392.0H266.2V683.9H323.2M499.8 722.5H385.2V748.3H499.8M499.8 774.0H400.8V799.7H499.8M385.2 735.4H346.6V786.9H400.8M266.2 537.9H254.6V761.1H346.6M499.8 825.5H443.7V851.2H499.8M443.7 838.3H410.4V877.0H499.8M410.4 857.7H390.7V902.7H499.8M499.8 928.4H441.4V954.2H499.8M441.4 941.3H426.2V979.9H499.8M499.8 1005.7H470.3V1031.4H499.8M470.3 1018.5H465.9V1057.1H499.8M499.8 1082.9H469.9V1108.6H499.8M465.9 1037.8H460.4V1095.8H469.9M460.4 1066.8H455.1V1134.4H499.8M455.1 1100.6H454.3V1160.1H499.8M499.8 1185.8H458.3V1211.6H499.8M454.3 1130.3H450.5V1198.7H458.3M426.2 960.6H417.0V1164.5H450.5M390.7 880.2H371.3V1062.6H417.0M499.8 1237.3H435.1V1263.1H499.8M499.8 1288.8H465.0V1314.5H499.8M435.1 1250.2H390.4V1301.7H465.0M371.3 971.4H351.3V1275.9H390.4M254.6 649.5H243.4V1123.7H351.3M243.4 886.6H158.4V1340.3H499.8M499.8 1366.0H357.0V1391.8H499.8M158.4 1113.4H100.0V1378.9H357.0M100.0 1246.2H89.7V1417.5H499.8M89.7 1331.8H16.7V1443.2H499.8M16.7 1387.5H7.9V1469.0H499.8" fill="none" stroke="#5a5a5a" stroke-width="2.1" stroke-linejoin="miter"/>
<g stroke="#7a7a7a" stroke-width="2.4" fill="none">
<path d="M499.8 1536.4V1550.8"/>
<path d="M407.6 1536.4V1550.8"/>
<path d="M315.4 1536.4V1550.8"/>
<path d="M223.1 1536.4V1550.8"/>
<path d="M130.9 1536.4V1550.8"/>
<path d="M38.7 1536.4V1550.8"/>
</g>
<g stroke="#2a2a2a" stroke-width="1.7" fill="none">
<path d="M37.5 1536.4H501.0"/>
</g>
<g font-size="25.3" text-anchor="middle" fill="#000">
<text x="499.8" y="1590.3">0.0</text>
<text x="407.6" y="1590.3">0.1</text>
<text x="315.4" y="1590.3">0.2</text>
<text x="223.1" y="1590.3">0.3</text>
<text x="130.9" y="1590.3">0.4</text>
<text x="38.7" y="1590.3">0.5</text>
</g>
<g><rect x="774.3" y="1501.8" width="16.2" height="16" fill="#AA4F4F"/><rect x="774.3" y="1525.4" width="16.2" height="16" fill="#B8A055"/><rect x="774.3" y="1549.0" width="16.2" height="16" fill="#98C058"/><rect x="774.3" y="1572.6" width="16.2" height="16" fill="#7BBF6E"/><rect x="774.3" y="1596.2" width="16.2" height="16" fill="#7DC0BE"/><rect x="774.3" y="1619.8" width="16.2" height="16" fill="#5769BD"/><rect x="774.3" y="1643.4" width="16.2" height="16" fill="#7A4FBC"/><rect x="1108.3" y="1501.8" width="16.2" height="16" fill="#A84FA2"/><rect x="1108.3" y="1525.4" width="16.2" height="16" fill="#AA4F4F"/><rect x="1108.3" y="1549.0" width="16.2" height="16" fill="#B8A055"/><rect x="1108.3" y="1572.6" width="16.2" height="16" fill="#98C058"/><rect x="1108.3" y="1596.2" width="16.2" height="16" fill="#7BBF6E"/><rect x="1108.3" y="1619.8" width="16.2" height="16" fill="#7DC0BE"/><rect x="1108.3" y="1643.4" width="16.2" height="16" fill="#5769BD"/><rect x="1441.7" y="1501.8" width="16.2" height="16" fill="#7A4FBC"/><rect x="1441.7" y="1525.4" width="16.2" height="16" fill="#A84FA2"/><rect x="1441.7" y="1549.0" width="16.2" height="16" fill="#AA4F4F"/><rect x="1441.7" y="1572.6" width="16.2" height="16" fill="#B8A055"/><rect x="1441.7" y="1596.2" width="16.2" height="16" fill="#98C058"/></g>
<g font-size="20.5" fill="#000"><text x="809.0" y="1517.1">f<tspan fill="#8a8a8a">__</tspan>Mycosphaerellaceae_unclassified</text><text x="809.0" y="1540.7">g<tspan fill="#8a8a8a">__</tspan>Mycosphaerella</text><text x="809.0" y="1564.3">o<tspan fill="#8a8a8a">__</tspan>Capnodiales_unclassified</text><text x="809.0" y="1587.9">g<tspan fill="#8a8a8a">__</tspan>Aspergillus</text><text x="809.0" y="1611.5">g<tspan fill="#8a8a8a">__</tspan>Penicillium</text><text x="809.0" y="1635.1">g<tspan fill="#8a8a8a">__</tspan>Saccharomyces</text><text x="809.0" y="1658.7">g<tspan fill="#8a8a8a">__</tspan>Clonostachys</text><text x="1142.7" y="1517.1">g<tspan fill="#8a8a8a">__</tspan>Trichoderma</text><text x="1142.7" y="1540.7">f<tspan fill="#8a8a8a">__</tspan>Nectriaceae_unclassified</text><text x="1142.7" y="1564.3">g<tspan fill="#8a8a8a">__</tspan>Fusarium</text><text x="1142.7" y="1587.9">f<tspan fill="#8a8a8a">__</tspan>Halosphaeriaceae_unclassified</text><text x="1142.7" y="1611.5">g<tspan fill="#8a8a8a">__</tspan>Ceriosporopsis</text><text x="1142.7" y="1635.1">g<tspan fill="#8a8a8a">__</tspan>Pseudallescheria</text><text x="1142.7" y="1658.7">g<tspan fill="#8a8a8a">__</tspan>unclassified_Microascaceae</text><text x="1475.9" y="1517.1">g<tspan fill="#8a8a8a">__</tspan>Arthrinium</text><text x="1475.9" y="1540.7">g<tspan fill="#8a8a8a">__</tspan>Phanerochaete</text><text x="1475.9" y="1564.3">g<tspan fill="#8a8a8a">__</tspan>Lopharia</text><text x="1475.9" y="1587.9">g<tspan fill="#8a8a8a">__</tspan>Trichosporon</text><text x="1475.9" y="1611.5">other</text></g>
</svg></body></html>
